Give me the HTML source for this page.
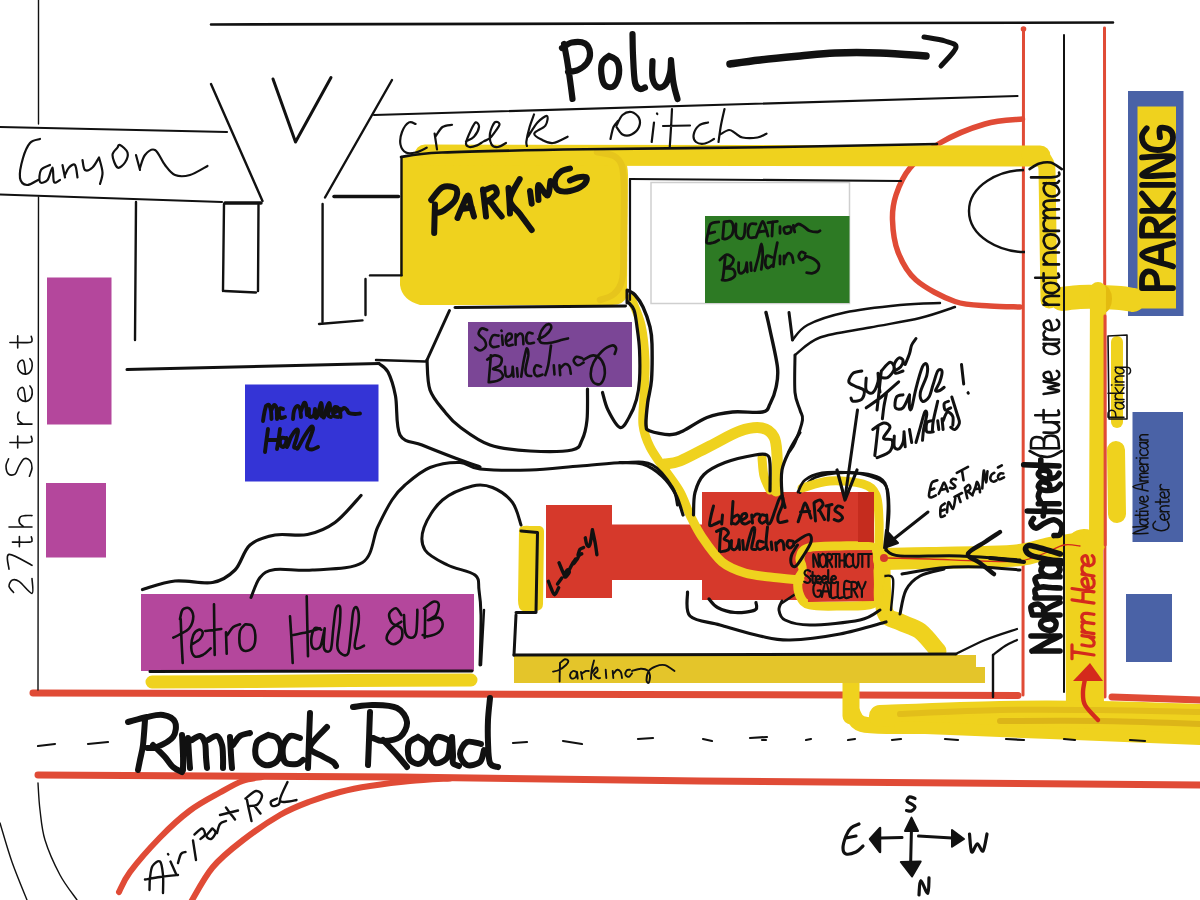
<!DOCTYPE html>
<html><head><meta charset="utf-8">
<style>
html,body{margin:0;padding:0;background:#fff;}
body{width:1200px;height:900px;overflow:hidden;}
svg{display:block;}
</style></head>
<body>
<svg width="1200" height="900" viewBox="0 0 1200 900">
<rect width="1200" height="900" fill="#fff"/>
<rect x="47" y="277.5" width="64.5" height="147" fill="#b4479c"/>
<rect x="46" y="483" width="60" height="74.5" fill="#b4479c"/>
<path d="M401 156 L615 151 Q628 156 628 175 L627 296 Q624 305 612 305 L420 305 Q402 300 400 285 Z" fill="#efd21e"/>
<rect x="651" y="182.5" width="198.5" height="121" fill="#fff" stroke="#cfcfcf" stroke-width="1.5"/>
<rect x="705" y="216" width="144.5" height="87" fill="#2d7a24"/>
<rect x="468" y="322" width="164" height="65" fill="#7b4696"/>
<rect x="245" y="384.5" width="133.5" height="97" fill="#3434d6"/>
<rect x="141" y="594" width="333" height="77" fill="#b4479c"/>
<rect x="546" y="505" width="66" height="93" fill="#d6392b"/>
<rect x="611" y="524.5" width="93" height="55.5" fill="#d6392b"/>
<rect x="702" y="492" width="172" height="108" fill="#d6392b"/>
<rect x="1128" y="91" width="55.5" height="225" fill="#4a62a6"/>
<rect x="1137.5" y="106.5" width="38.5" height="202" fill="#efd21e"/>
<rect x="1132.5" y="412" width="50.5" height="130" fill="#4a62a6"/>
<rect x="1126" y="594" width="46" height="68" fill="#4a62a6"/>
<path d="M1023.5 29.0 L1023.0 695.0" fill="none" stroke="#e04b36" stroke-width="3" stroke-linecap="round" stroke-linejoin="round" />
<circle cx="1023.5" cy="29" r="2.8" fill="#e04b36"/>
<path d="M1104.5 28.0 L1105.0 697.0" fill="none" stroke="#e04b36" stroke-width="3" stroke-linecap="round" stroke-linejoin="round" />
<path d="M1022.5 119.0 C1016.2 119.8 998.8 120.0 985.0 124.0 C971.2 128.0 952.5 135.7 940.0 143.0 C927.5 150.3 917.3 159.3 910.0 168.0 C902.7 176.7 898.9 186.3 896.0 195.0 C893.1 203.7 892.2 210.5 892.5 220.0 C892.8 229.5 894.1 242.0 898.0 252.0 C901.9 262.0 906.5 271.8 916.0 280.0 C925.5 288.2 942.7 297.2 955.0 301.5 C967.3 305.8 979.2 305.1 990.0 306.0 C1000.8 306.9 1015.0 306.8 1020.0 307.0" fill="none" stroke="#e04b36" stroke-width="5.5" stroke-linecap="round" stroke-linejoin="round" />
<path d="M33.0 693.0 L1018.0 695.5" fill="none" stroke="#e04b36" stroke-width="7" stroke-linecap="round" stroke-linejoin="round" />
<path d="M1112.0 697.0 L1200.0 700.0" fill="none" stroke="#e04b36" stroke-width="7" stroke-linecap="round" stroke-linejoin="round" />
<path d="M38.0 775.0 L400.0 777.0 L700.0 781.0 L1200.0 785.0" fill="none" stroke="#e04b36" stroke-width="7" stroke-linecap="round" stroke-linejoin="round" />
<path d="M119.0 892.0 C120.8 888.7 123.2 881.1 130.0 872.0 C136.8 862.9 150.0 847.8 160.0 837.5 C170.0 827.2 180.0 818.0 190.0 810.5 C200.0 803.0 211.2 797.4 220.0 792.5 C228.8 787.6 235.5 783.6 242.5 781.0 C249.5 778.4 258.8 777.7 262.0 777.0" fill="none" stroke="#e04b36" stroke-width="6" stroke-linecap="round" stroke-linejoin="round" />
<path d="M191.0 902.0 C194.6 896.2 203.9 877.8 212.5 867.5 C221.1 857.2 231.2 849.2 242.5 840.5 C253.8 831.8 268.8 821.5 280.0 815.0 C291.2 808.5 300.0 805.3 310.0 801.5 C320.0 797.7 330.0 794.6 340.0 792.0 C350.0 789.4 358.3 787.8 370.0 786.0 C381.7 784.2 396.7 782.2 410.0 781.0 C423.3 779.8 443.3 778.9 450.0 778.5" fill="none" stroke="#e04b36" stroke-width="6" stroke-linecap="round" stroke-linejoin="round" />
<path d="M425.0 155.0 L1040.0 156.0" fill="none" stroke="#efd21e" stroke-width="21" stroke-linecap="round" stroke-linejoin="round" />
<path d="M1030 155 Q1047 156 1047 170 L1049 300" fill="none" stroke="#efd21e" stroke-width="17" stroke-linecap="round"/>
<path d="M1062.0 299.0 C1065.0 298.7 1073.7 297.3 1080.0 297.0 C1086.3 296.7 1093.3 296.8 1100.0 297.0 C1106.7 297.2 1114.5 297.5 1120.0 298.0 C1125.5 298.5 1130.8 299.7 1133.0 300.0" fill="none" stroke="#efd21e" stroke-width="24" stroke-linecap="round" stroke-linejoin="round" />
<ellipse cx="1103" cy="299" rx="9" ry="14" fill="#e3bb10"/>
<path d="M1098.0 290.0 L1097.0 545.0" fill="none" stroke="#efd21e" stroke-width="16" stroke-linecap="round" stroke-linejoin="round" />
<path d="M1117.0 342.0 L1117.0 422.0" fill="none" stroke="#efd21e" stroke-width="12" stroke-linecap="round" stroke-linejoin="round" />
<path d="M1116.0 450.0 L1117.0 514.0" fill="none" stroke="#efd21e" stroke-width="18" stroke-linecap="round" stroke-linejoin="round" />
<path d="M1084.0 548.0 L1085.0 712.0" fill="none" stroke="#efd21e" stroke-width="38" stroke-linecap="round" stroke-linejoin="round" />
<path d="M884.0 559.0 C891.7 558.8 914.0 558.3 930.0 558.0 C946.0 557.7 965.0 557.5 980.0 557.0 C995.0 556.5 1008.3 556.5 1020.0 555.0 C1031.7 553.5 1040.8 549.8 1050.0 548.0 C1059.2 546.2 1070.8 544.7 1075.0 544.0" fill="none" stroke="#efd21e" stroke-width="22" stroke-linecap="round" stroke-linejoin="round" />
<path d="M851.0 683.0 L851.0 716.0" fill="none" stroke="#efd21e" stroke-width="17" stroke-linecap="round" stroke-linejoin="round" />
<path d="M852.0 712.0 C853.7 714.0 854.0 721.7 862.0 724.0 C870.0 726.3 877.0 725.7 900.0 726.0 C923.0 726.3 966.7 725.8 1000.0 726.0 C1033.3 726.2 1066.7 726.7 1100.0 727.0 C1133.3 727.3 1183.3 727.8 1200.0 728.0" fill="none" stroke="#efd21e" stroke-width="16" stroke-linecap="round" stroke-linejoin="round" />
<path d="M880.0 716.0 C900.0 715.3 963.3 712.7 1000.0 712.0 C1036.7 711.3 1066.7 711.5 1100.0 712.0 C1133.3 712.5 1183.3 714.5 1200.0 715.0" fill="none" stroke="#efd21e" stroke-width="22" stroke-linecap="round" stroke-linejoin="round" />
<path d="M950.0 724.0 C966.7 724.3 1021.7 725.2 1050.0 726.0 C1078.3 726.8 1095.0 727.8 1120.0 729.0 C1145.0 730.2 1186.7 732.3 1200.0 733.0" fill="none" stroke="#efd21e" stroke-width="18" stroke-linecap="round" stroke-linejoin="round" />
<path d="M900.0 727.0 C916.7 727.7 966.7 729.7 1000.0 731.0 C1033.3 732.3 1066.7 733.7 1100.0 735.0 C1133.3 736.3 1183.3 738.3 1200.0 739.0" fill="none" stroke="#efd21e" stroke-width="12" stroke-linecap="round" stroke-linejoin="round" />
<path d="M900.0 714.0 C916.7 713.3 966.7 710.7 1000.0 710.0 C1033.3 709.3 1066.7 709.7 1100.0 710.0 C1133.3 710.3 1183.3 711.7 1200.0 712.0" fill="none" stroke="#e2be1a" stroke-width="6" stroke-linecap="round" stroke-linejoin="round" />
<path d="M1000.0 721.0 C1016.7 721.0 1066.7 720.5 1100.0 721.0 C1133.3 721.5 1183.3 723.5 1200.0 724.0" fill="none" stroke="#dcb518" stroke-width="6" stroke-linecap="round" stroke-linejoin="round" />
<path d="M597.0 152.0 C599.8 152.7 609.8 153.7 614.0 156.0 C618.2 158.3 620.3 160.3 622.0 166.0 C623.7 171.7 623.8 177.7 624.0 190.0 C624.2 202.3 623.8 225.3 623.5 240.0 C623.2 254.7 624.1 269.0 622.5 278.0 C620.9 287.0 617.8 290.3 614.0 294.0 C610.2 297.7 602.3 299.0 600.0 300.0" fill="none" stroke="#e6c51c" stroke-width="6.5" stroke-linecap="round" stroke-linejoin="round" />
<path d="M631.0 298.0 C632.7 302.5 638.7 314.7 641.0 325.0 C643.3 335.3 644.5 348.3 645.0 360.0 C645.5 371.7 644.3 384.2 644.0 395.0 C643.7 405.8 642.0 416.3 643.0 425.0 C644.0 433.7 646.3 439.5 650.0 447.0 C653.7 454.5 660.0 462.5 665.0 470.0 C670.0 477.5 675.8 484.5 680.0 492.0 C684.2 499.5 686.3 507.5 690.0 515.0 C693.7 522.5 696.7 529.2 702.0 537.0 C707.3 544.8 714.8 556.0 722.0 562.0 C729.2 568.0 737.0 570.5 745.0 573.0 C753.0 575.5 760.8 575.8 770.0 577.0 C779.2 578.2 795.0 579.5 800.0 580.0" fill="none" stroke="#efd21e" stroke-width="9" stroke-linecap="round" stroke-linejoin="round" />
<path d="M665.0 464.0 C667.5 463.5 672.5 464.0 680.0 461.0 C687.5 458.0 700.0 451.0 710.0 446.0 C720.0 441.0 731.3 434.0 740.0 431.0 C748.7 428.0 756.3 427.0 762.0 428.0 C767.7 429.0 771.5 432.5 774.0 437.0 C776.5 441.5 776.5 448.3 777.0 455.0 C777.5 461.7 777.2 471.0 777.0 477.0 C776.8 483.0 776.2 488.7 776.0 491.0" fill="none" stroke="#efd21e" stroke-width="11" stroke-linecap="round" stroke-linejoin="round" />
<path d="M762.0 458.0 C762.3 461.0 762.7 470.7 764.0 476.0 C765.3 481.3 769.0 487.7 770.0 490.0" fill="none" stroke="#efd21e" stroke-width="9" stroke-linecap="round" stroke-linejoin="round" />
<path d="M882.0 570.0 C882.5 577.0 882.0 603.3 885.0 612.0 C888.0 620.7 894.2 618.8 900.0 622.0 C905.8 625.2 913.7 626.2 920.0 631.0 C926.3 635.8 935.0 647.7 938.0 651.0" fill="none" stroke="#efd21e" stroke-width="17" stroke-linecap="round" stroke-linejoin="round" />
<path d="M519 530 Q519 525 530 526 L540 526 Q545 527 544 535 L543 604 Q543 611 535 611 L523 611 Q518 610 518 600 Z" fill="#efd21e"/>
<path d="M152.0 682.0 C168.3 681.9 217.0 681.8 250.0 681.5 C283.0 681.2 313.2 680.8 350.0 680.5 C386.8 680.2 450.8 680.1 471.0 680.0" fill="none" stroke="#efd21e" stroke-width="13" stroke-linecap="round" stroke-linejoin="round" />
<rect x="514" y="655" width="462" height="13" fill="#e4c52a"/>
<rect x="514" y="667" width="471" height="16" fill="#e4c52a"/>
<path d="M211.0 24.5 L1113.0 22.5" fill="none" stroke="#111" stroke-width="2.6" stroke-linecap="round" stroke-linejoin="round" />
<path d="M38.5 0.0 L38.5 124.0" fill="none" stroke="#111" stroke-width="1.4" stroke-linecap="round" stroke-linejoin="round" />
<path d="M38.5 197.0 L38.0 690.0" fill="none" stroke="#111" stroke-width="1.4" stroke-linecap="round" stroke-linejoin="round" />
<path d="M0.0 127.0 L227.0 132.0" fill="none" stroke="#111" stroke-width="2.2" stroke-linecap="round" stroke-linejoin="round" />
<path d="M0.0 194.5 L222.0 202.0" fill="none" stroke="#111" stroke-width="2.2" stroke-linecap="round" stroke-linejoin="round" />
<path d="M211.0 84.0 L262.5 201.0" fill="none" stroke="#111" stroke-width="2.4" stroke-linecap="round" stroke-linejoin="round" />
<path d="M273.0 79.0 L295.5 142.0 L331.0 77.5" fill="none" stroke="#111" stroke-width="3.0" stroke-linecap="round" stroke-linejoin="round" />
<path d="M392.0 80.0 L325.0 197.5" fill="none" stroke="#111" stroke-width="2.4" stroke-linecap="round" stroke-linejoin="round" />
<path d="M374.0 115.0 L1017.5 96.0" fill="none" stroke="#111" stroke-width="2.2" stroke-linecap="round" stroke-linejoin="round" />
<path d="M225.0 203.0 L261.0 203.0" fill="none" stroke="#111" stroke-width="3.5" stroke-linecap="round" stroke-linejoin="round" />
<path d="M334.0 196.5 L398.5 196.5" fill="none" stroke="#111" stroke-width="3.5" stroke-linecap="round" stroke-linejoin="round" />
<path d="M136.0 202.0 L135.0 340.0" fill="none" stroke="#111" stroke-width="2.4" stroke-linecap="round" stroke-linejoin="round" />
<path d="M224.0 204.0 L223.0 291.0" fill="none" stroke="#111" stroke-width="2.4" stroke-linecap="round" stroke-linejoin="round" />
<path d="M258.5 205.0 L258.0 291.0" fill="none" stroke="#111" stroke-width="2.4" stroke-linecap="round" stroke-linejoin="round" />
<path d="M224.5 291.0 L256.0 292.5" fill="none" stroke="#111" stroke-width="2.4" stroke-linecap="round" stroke-linejoin="round" />
<path d="M322.6 204.0 L322.5 322.0" fill="none" stroke="#111" stroke-width="2.4" stroke-linecap="round" stroke-linejoin="round" />
<path d="M319.0 324.0 L362.5 320.4" fill="none" stroke="#111" stroke-width="2.4" stroke-linecap="round" stroke-linejoin="round" />
<path d="M365.5 279.0 L365.5 315.0" fill="none" stroke="#111" stroke-width="2.4" stroke-linecap="round" stroke-linejoin="round" />
<path d="M370.0 275.4 L401.5 275.4" fill="none" stroke="#111" stroke-width="2.4" stroke-linecap="round" stroke-linejoin="round" />
<path d="M401.5 157.0 L401.5 275.0" fill="none" stroke="#111" stroke-width="2.4" stroke-linecap="round" stroke-linejoin="round" />
<path d="M401.0 157.0 C407.8 156.2 411.3 153.8 442.0 152.5 C472.7 151.2 528.7 150.2 585.0 149.3 C641.3 148.4 721.3 147.9 780.0 147.0 C838.7 146.1 910.8 144.5 937.0 144.0" fill="none" stroke="#111" stroke-width="2.6" stroke-linecap="round" stroke-linejoin="round" />
<path d="M630.0 179.0 L630.0 300.0" fill="none" stroke="#111" stroke-width="2.2" stroke-linecap="round" stroke-linejoin="round" />
<path d="M630.0 179.0 L901.0 181.0" fill="none" stroke="#111" stroke-width="2.2" stroke-linecap="round" stroke-linejoin="round" />
<path d="M627.0 290.0 L627.0 303.0" fill="none" stroke="#111" stroke-width="3" stroke-linecap="round" stroke-linejoin="round" />
<path d="M455.0 307.5 L625.5 306.0" fill="none" stroke="#111" stroke-width="3.0" stroke-linecap="round" stroke-linejoin="round" />
<path d="M1024 170 C1000 170 969 185 969 211 C969 237 1000 252 1025 252" fill="none" stroke="#111" stroke-width="2.4"/>
<path d="M1064.0 35.0 L1064.0 692.0" fill="none" stroke="#111" stroke-width="2" stroke-linecap="round" stroke-linejoin="round" />
<path d="M127.0 369.6 L379.0 363.6" fill="none" stroke="#111" stroke-width="3.0" stroke-linecap="round" stroke-linejoin="round" />
<path d="M379.0 363.6 C380.5 365.0 385.2 366.6 388.0 372.0 C390.8 377.4 393.5 385.5 395.5 396.0 C397.5 406.5 395.6 426.8 400.0 435.0 C404.4 443.2 412.8 441.2 422.0 445.0 C431.2 448.8 445.3 454.3 455.0 458.0 C464.7 461.7 475.8 465.5 480.0 467.0" fill="none" stroke="#111" stroke-width="3.2" stroke-linecap="round" stroke-linejoin="round" />
<path d="M376.0 360.0 L425.5 361.5" fill="none" stroke="#111" stroke-width="2.4" stroke-linecap="round" stroke-linejoin="round" />
<path d="M449.5 310.5 L427.0 360.0" fill="none" stroke="#111" stroke-width="3.0" stroke-linecap="round" stroke-linejoin="round" />
<path d="M427.0 360.0 C427.5 365.0 427.0 381.3 430.0 390.0 C433.0 398.7 440.0 405.8 445.0 412.0 C450.0 418.2 452.5 421.5 460.0 427.0 C467.5 432.5 478.3 441.0 490.0 445.0 C501.7 449.0 516.3 450.2 530.0 451.0 C543.7 451.8 563.3 451.8 572.0 450.0 C580.7 448.2 579.5 445.0 582.0 440.0 C584.5 435.0 586.1 428.5 587.0 420.0 C587.9 411.5 587.4 394.2 587.5 389.0" fill="none" stroke="#111" stroke-width="3.2" stroke-linecap="round" stroke-linejoin="round" />
<path d="M602.5 392.5 C603.4 395.4 605.1 404.2 608.0 410.0 C610.9 415.8 616.5 426.2 620.0 427.5 C623.5 428.8 626.2 422.2 629.0 417.5 C631.8 412.8 634.8 405.8 636.5 399.5 C638.2 393.2 639.0 388.2 639.5 380.0 C640.0 371.8 639.9 358.8 639.5 350.0 C639.1 341.2 637.9 333.7 637.0 327.0 C636.1 320.3 635.5 314.2 634.0 310.0 C632.5 305.8 629.0 303.3 628.0 302.0" fill="none" stroke="#111" stroke-width="3.2" stroke-linecap="round" stroke-linejoin="round" />
<path d="M628.0 290.5 C629.2 291.2 632.5 292.2 635.0 295.0 C637.5 297.8 640.5 301.7 643.0 307.0 C645.5 312.3 648.5 320.8 650.0 327.0 C651.5 333.2 651.8 335.2 652.0 344.0 C652.2 352.8 652.2 370.2 651.5 380.0 C650.8 389.8 648.6 395.0 647.7 402.5 C646.8 410.0 645.6 420.2 646.0 425.0 C646.4 429.8 646.1 429.4 650.0 431.0 C653.9 432.6 664.0 434.7 669.5 434.7 C675.0 434.7 676.8 433.9 683.0 431.0 C689.2 428.1 698.8 420.7 707.0 417.5 C715.2 414.3 723.2 412.9 732.5 412.0 C741.8 411.1 756.2 413.3 762.5 412.0 C768.8 410.7 767.8 408.1 770.0 404.0 C772.2 399.9 774.8 393.6 776.0 387.5 C777.2 381.4 778.5 377.1 777.5 367.5 C776.5 357.9 771.9 339.2 770.0 330.0 C768.1 320.8 766.7 315.4 766.0 312.5" fill="none" stroke="#111" stroke-width="3.4" stroke-linecap="round" stroke-linejoin="round" />
<path d="M142.5 589.5 C147.9 588.1 163.3 582.2 175.0 581.0 C186.7 579.8 202.5 584.3 212.5 582.5 C222.5 580.7 228.8 576.2 235.0 570.0 C241.2 563.8 243.3 550.8 250.0 545.0 C256.7 539.2 265.4 536.8 275.0 535.0 C284.6 533.2 297.5 536.6 307.5 534.5 C317.5 532.4 326.1 529.0 335.0 522.5 C343.9 516.0 356.7 500.0 361.0 495.5" fill="none" stroke="#111" stroke-width="3.2" stroke-linecap="round" stroke-linejoin="round" />
<path d="M251.0 597.5 C252.5 594.2 256.0 582.2 260.0 577.5 C264.0 572.8 266.2 570.8 275.0 569.5 C283.8 568.2 297.9 571.2 312.5 570.0 C327.1 568.8 351.7 569.6 362.5 562.5 C373.3 555.4 372.6 537.9 377.5 527.5 C382.4 517.1 387.4 507.1 392.0 500.0 C396.6 492.9 398.7 490.4 405.0 485.0 C411.3 479.6 420.8 471.2 430.0 467.5 C439.2 463.8 451.7 462.2 460.0 462.5 C468.3 462.8 468.3 467.8 480.0 469.0 C491.7 470.2 513.3 470.5 530.0 470.0 C546.7 469.5 564.2 467.2 580.0 466.0 C595.8 464.8 612.9 462.7 625.0 462.5 C637.1 462.3 644.6 460.8 652.5 465.0 C660.4 469.2 668.3 480.8 672.5 487.5 C676.7 494.2 676.7 502.1 677.5 505.0" fill="none" stroke="#111" stroke-width="3" stroke-linecap="round" stroke-linejoin="round" />
<path d="M521.0 525.0 C519.6 521.2 517.2 508.8 512.5 502.5 C507.8 496.2 499.2 490.2 492.5 487.5 C485.8 484.8 480.8 483.9 472.5 486.0 C464.2 488.1 450.6 493.1 442.5 500.0 C434.4 506.9 426.9 519.2 424.0 527.5 C421.1 535.8 421.1 543.8 425.0 550.0 C428.9 556.2 439.2 560.8 447.5 565.0 C455.8 569.2 469.8 570.8 475.0 575.0 C480.2 579.2 478.0 583.3 479.0 590.0 C480.0 596.7 480.8 602.5 481.0 615.0 C481.2 627.5 480.2 656.7 480.0 665.0" fill="none" stroke="#111" stroke-width="3" stroke-linecap="round" stroke-linejoin="round" />
<path d="M484.0 610.0 L481.0 665.0" fill="none" stroke="#111" stroke-width="2.4" stroke-linecap="round" stroke-linejoin="round" />
<path d="M521.0 531.0 L537.5 532.5 L536.0 612.5 L516.0 612.5" fill="none" stroke="#111" stroke-width="3.0" stroke-linecap="round" stroke-linejoin="round" />
<path d="M516.0 615.0 L514.0 655.0" fill="none" stroke="#111" stroke-width="3.0" stroke-linecap="round" stroke-linejoin="round" />
<path d="M514.0 655.0 L956.0 654.0" fill="none" stroke="#111" stroke-width="3.0" stroke-linecap="round" stroke-linejoin="round" />
<path d="M956.0 654.0 C960.8 651.7 974.8 644.2 985.0 640.0 C995.2 635.8 1011.7 630.8 1017.0 629.0" fill="none" stroke="#111" stroke-width="2.2" stroke-linecap="round" stroke-linejoin="round" />
<path d="M993.0 697.0 L993.0 655.0" fill="none" stroke="#111" stroke-width="2.4" stroke-linecap="round" stroke-linejoin="round" />
<path d="M993.0 655.0 C995.0 653.5 1001.0 648.5 1005.0 646.0 C1009.0 643.5 1015.0 641.0 1017.0 640.0" fill="none" stroke="#111" stroke-width="2.2" stroke-linecap="round" stroke-linejoin="round" />
<path d="M150.0 671.5 L472.0 671.0" fill="none" stroke="#111" stroke-width="3.0" stroke-linecap="round" stroke-linejoin="round" />
<path d="M620.0 462.5 C623.8 462.8 635.5 461.8 642.5 464.0 C649.5 466.2 656.5 471.0 662.0 476.0 C667.5 481.0 672.0 487.5 675.5 494.0 C679.0 500.5 681.8 511.5 683.0 515.0" fill="none" stroke="#111" stroke-width="3.2" stroke-linecap="round" stroke-linejoin="round" />
<path d="M693.5 515.0 C693.8 511.2 693.2 499.2 695.0 492.5 C696.8 485.8 699.0 479.5 704.0 474.5 C709.0 469.5 716.5 465.8 725.0 462.5 C733.5 459.2 748.0 456.2 755.0 455.0 C762.0 453.8 764.5 453.5 767.0 455.0 C769.5 456.5 769.5 458.0 770.0 464.0 C770.5 470.0 770.0 486.5 770.0 491.0" fill="none" stroke="#111" stroke-width="3.2" stroke-linecap="round" stroke-linejoin="round" />
<path d="M800.0 432.5 C798.2 435.5 792.5 444.2 789.5 450.5 C786.5 456.8 783.2 462.8 782.0 470.0 C780.8 477.2 781.5 487.8 782.0 494.0 C782.5 500.2 784.5 505.2 785.0 507.5" fill="none" stroke="#111" stroke-width="3.2" stroke-linecap="round" stroke-linejoin="round" />
<path d="M789.0 312.5 L792.5 340.0" fill="none" stroke="#111" stroke-width="3.0" stroke-linecap="round" stroke-linejoin="round" />
<path d="M792.5 340.0 C795.0 337.5 798.8 329.6 807.5 325.0 C816.2 320.4 829.6 315.8 845.0 312.5 C860.4 309.2 884.2 306.6 900.0 305.0 C915.8 303.4 933.3 303.3 940.0 303.0" fill="none" stroke="#111" stroke-width="2.4" stroke-linecap="round" stroke-linejoin="round" />
<path d="M795.0 355.0 C799.2 352.1 807.5 342.1 820.0 337.5 C832.5 332.9 853.3 330.8 870.0 327.5 C886.7 324.2 905.8 321.4 920.0 318.0 C934.2 314.6 949.2 308.8 955.0 307.0" fill="none" stroke="#111" stroke-width="2.4" stroke-linecap="round" stroke-linejoin="round" />
<path d="M795.0 355.0 C795.0 361.2 794.2 383.3 795.0 392.5 C795.8 401.7 798.8 405.4 800.0 410.0 C801.2 414.6 803.3 414.6 802.5 420.0 C801.7 425.4 797.2 437.2 795.0 442.5 C792.8 447.8 790.0 450.4 789.0 452.0" fill="none" stroke="#111" stroke-width="3.0" stroke-linecap="round" stroke-linejoin="round" />
<path d="M800.0 492.5 C802.5 490.0 807.5 480.8 815.0 477.5 C822.5 474.2 835.8 472.8 845.0 472.5 C854.2 472.2 863.2 473.8 870.0 476.0 C876.8 478.2 882.8 480.3 886.0 486.0 C889.2 491.7 888.8 501.7 889.0 510.0 C889.2 518.3 887.5 529.3 887.0 536.0 C886.5 542.7 886.2 547.7 886.0 550.0" fill="none" stroke="#111" stroke-width="3.0" stroke-linecap="round" stroke-linejoin="round" />
<path d="M886.0 550.0 C888.3 551.0 887.7 555.0 900.0 556.0 C912.3 557.0 940.0 555.3 960.0 556.0 C980.0 556.7 1010.0 559.3 1020.0 560.0" fill="none" stroke="#111" stroke-width="3.0" stroke-linecap="round" stroke-linejoin="round" />
<path d="M902.0 574.0 C908.3 573.0 927.0 569.2 940.0 568.0 C953.0 566.8 966.7 566.7 980.0 567.0 C993.3 567.3 1013.3 569.5 1020.0 570.0" fill="none" stroke="#111" stroke-width="3.0" stroke-linecap="round" stroke-linejoin="round" />
<path d="M900.0 614.0 C901.0 610.0 902.7 596.3 906.0 590.0 C909.3 583.7 913.7 579.5 920.0 576.0 C926.3 572.5 940.0 570.2 944.0 569.0" fill="none" stroke="#111" stroke-width="3.0" stroke-linecap="round" stroke-linejoin="round" />
<path d="M884.0 576.0 C885.5 576.5 891.8 573.3 893.0 579.0 C894.2 584.7 891.3 604.8 891.0 610.0" fill="none" stroke="#111" stroke-width="2.4" stroke-linecap="round" stroke-linejoin="round" />
<path d="M687.5 592.0 C687.9 596.0 684.6 610.5 690.0 616.0 C695.4 621.5 708.3 621.7 720.0 625.0 C731.7 628.3 748.3 633.5 760.0 636.0 C771.7 638.5 776.7 640.3 790.0 640.0 C803.3 639.7 824.0 637.0 840.0 634.0 C856.0 631.0 878.3 624.0 886.0 622.0" fill="none" stroke="#111" stroke-width="3.2" stroke-linecap="round" stroke-linejoin="round" />
<path d="M782.0 603.0 L797.0 593.0" fill="none" stroke="#111" stroke-width="2.6" stroke-linecap="round" stroke-linejoin="round" />
<path d="M709.0 599.0 C710.4 600.4 713.2 605.2 717.5 607.5 C721.8 609.8 728.8 612.1 735.0 612.5 C741.2 612.9 751.5 611.7 755.0 610.0 C758.5 608.3 755.8 603.8 756.0 602.5" fill="none" stroke="#111" stroke-width="3.2" stroke-linecap="round" stroke-linejoin="round" />
<path d="M782.0 601.0 C781.5 602.5 778.5 606.8 779.0 610.0 C779.5 613.2 779.8 617.5 785.0 620.0 C790.2 622.5 797.5 625.0 810.0 625.0 C822.5 625.0 848.3 622.5 860.0 620.0 C871.7 617.5 876.7 611.7 880.0 610.0" fill="none" stroke="#111" stroke-width="3.0" stroke-linecap="round" stroke-linejoin="round" />
<path d="M0.0 823.0 C2.0 829.5 7.5 849.2 12.0 862.0 C16.5 874.8 24.5 893.7 27.0 900.0" fill="none" stroke="#111" stroke-width="1.4" stroke-linecap="round" stroke-linejoin="round" />
<path d="M38.0 783.0 C38.3 787.5 38.8 800.5 40.0 810.0 C41.2 819.5 41.7 829.2 45.0 840.0 C48.3 850.8 54.7 865.0 60.0 875.0 C65.3 885.0 74.2 895.8 77.0 900.0" fill="none" stroke="#111" stroke-width="1.4" stroke-linecap="round" stroke-linejoin="round" />
<path d="M1108.0 336.0 L1127.0 335.0 L1127.0 419.0 L1109.0 419.0 L1108.0 336.0" fill="none" stroke="#111" stroke-width="1.6" stroke-linecap="round" stroke-linejoin="round" />
<path d="M1105.0 316.0 L1105.2 545.0" fill="none" stroke="#e04b36" stroke-width="3" stroke-linecap="round" stroke-linejoin="round" />
<path d="M38.0 746.0 L55.0 744.0" fill="none" stroke="#111" stroke-width="2.2" stroke-linecap="round" stroke-linejoin="round" />
<path d="M88.0 744.0 L108.0 742.0" fill="none" stroke="#111" stroke-width="2.2" stroke-linecap="round" stroke-linejoin="round" />
<path d="M513.0 743.0 L527.0 742.0" fill="none" stroke="#111" stroke-width="2.2" stroke-linecap="round" stroke-linejoin="round" />
<path d="M563.0 741.0 L582.0 744.0" fill="none" stroke="#111" stroke-width="2.2" stroke-linecap="round" stroke-linejoin="round" />
<path d="M638.0 739.0 L653.0 738.0" fill="none" stroke="#111" stroke-width="2.2" stroke-linecap="round" stroke-linejoin="round" />
<path d="M703.0 739.0 L712.0 741.0" fill="none" stroke="#111" stroke-width="2.2" stroke-linecap="round" stroke-linejoin="round" />
<path d="M750.0 738.0 L767.0 737.0" fill="none" stroke="#111" stroke-width="2.2" stroke-linecap="round" stroke-linejoin="round" />
<path d="M762.0 740.0 L766.0 740.0" fill="none" stroke="#111" stroke-width="2.2" stroke-linecap="round" stroke-linejoin="round" />
<path d="M806.0 740.0 L811.0 739.0" fill="none" stroke="#111" stroke-width="2.2" stroke-linecap="round" stroke-linejoin="round" />
<path d="M848.0 740.0 L855.0 739.0" fill="none" stroke="#111" stroke-width="2.2" stroke-linecap="round" stroke-linejoin="round" />
<path d="M892.0 740.0 L901.0 739.0" fill="none" stroke="#111" stroke-width="2.2" stroke-linecap="round" stroke-linejoin="round" />
<path d="M945.0 739.0 L958.0 740.0" fill="none" stroke="#111" stroke-width="2.2" stroke-linecap="round" stroke-linejoin="round" />
<path d="M1006.0 739.0 L1024.0 740.0" fill="none" stroke="#111" stroke-width="2.2" stroke-linecap="round" stroke-linejoin="round" />
<path d="M1064.0 739.0 L1075.0 740.0" fill="none" stroke="#111" stroke-width="2.2" stroke-linecap="round" stroke-linejoin="round" />
<path d="M1130.0 740.0 L1145.0 741.0" fill="none" stroke="#111" stroke-width="2.2" stroke-linecap="round" stroke-linejoin="round" />
<path d="M854.5 566.0 L858.6 578.7 L847.8 570.8 L861.2 570.8 L850.4 578.7 L854.5 566.0" fill="none" stroke="#fff" stroke-width="1.8" stroke-linecap="round" stroke-linejoin="round" />
<path d="M888.0 558.0 C895.0 558.2 914.7 558.5 930.0 559.0 C945.3 559.5 965.0 560.7 980.0 561.0 C995.0 561.3 1009.2 562.3 1020.0 561.0 C1030.8 559.7 1037.7 555.7 1045.0 553.0 C1052.3 550.3 1058.2 546.2 1064.0 545.0 C1069.8 543.8 1077.3 545.8 1080.0 546.0" fill="none" stroke="#d42a1c" stroke-width="1.3" stroke-linecap="round" stroke-linejoin="round" />
<path d="M1098.0 720.0 C1095.8 717.5 1087.5 709.7 1085.0 705.0 C1082.5 700.3 1083.0 696.3 1083.0 692.0 C1083.0 687.7 1084.7 681.2 1085.0 679.0" fill="none" stroke="#d42a1c" stroke-width="4.4" stroke-linecap="round" stroke-linejoin="round" />
<path d="M1073 681 L1090 663 L1103 681 Z" fill="#d42a1c"/>
<path d="M802.0 488.0 C806.7 486.8 819.8 481.7 830.0 481.0 C840.2 480.3 855.3 481.7 863.0 484.0 C870.7 486.3 873.3 489.0 876.0 495.0 C878.7 501.0 878.5 511.7 879.0 520.0 C879.5 528.3 878.8 536.7 879.0 545.0 C879.2 553.3 880.0 561.7 880.0 570.0 C880.0 578.3 879.2 590.8 879.0 595.0" fill="none" stroke="#efd21e" stroke-width="9" stroke-linecap="round" stroke-linejoin="round" />
<path d="M808.0 548.0 C814.7 546.0 829.3 546.2 840.0 546.0 C850.7 545.8 865.7 544.7 872.0 547.0 C878.3 549.3 877.0 552.8 878.0 560.0 C879.0 567.2 879.0 582.7 878.0 590.0 C877.0 597.3 878.3 601.3 872.0 604.0 C865.7 606.7 850.3 605.8 840.0 606.0 C829.7 606.2 816.7 606.7 810.0 605.0 C803.3 603.3 802.0 600.2 800.0 596.0 C798.0 591.8 797.5 584.3 798.0 580.0 C798.5 575.7 802.7 573.7 803.0 570.0 C803.3 566.3 799.2 561.7 800.0 558.0 C800.8 554.3 801.3 550.0 808.0 548.0 Z" fill="none" stroke="#efd21e" stroke-width="9" stroke-linejoin="round"/>
<path d="M806 552 L872 550 L874 601 L808 602 Z" fill="#d6392b"/>
<rect x="858" y="492" width="16" height="50" fill="#c52c1e"/>
<path d="M798.0 492.0 C799.2 490.0 801.0 483.2 805.0 480.0 C809.0 476.8 815.0 474.2 822.0 473.0 C829.0 471.8 838.7 472.2 847.0 472.5 C855.3 472.8 865.7 473.2 872.0 475.0 C878.3 476.8 882.3 478.3 885.0 483.0 C887.7 487.7 887.7 495.5 888.0 503.0 C888.3 510.5 887.2 521.0 887.0 528.0 C886.8 535.0 887.0 542.2 887.0 545.0" fill="none" stroke="#111" stroke-width="2.8" stroke-linecap="round" stroke-linejoin="round" />
<path d="M837.0 470.0 L845.0 500.0 L857.0 470.0" fill="none" stroke="#111" stroke-width="3.2" stroke-linecap="round" stroke-linejoin="round" />
<path d="M857.5 410.0 L845.0 498.0" fill="none" stroke="#111" stroke-width="3" stroke-linecap="round" stroke-linejoin="round" />
<path d="M928.0 512.0 L890.0 542.0" fill="none" stroke="#111" stroke-width="3" stroke-linecap="round" stroke-linejoin="round" />
<path d="M884 548 L886 530 L898 543 Z" fill="#111" stroke="#111" stroke-width="2" stroke-linejoin="round"/>
<circle cx="884" cy="558" r="4" fill="#d6392b"/>
<path d="M1000.0 532.0 C997.5 533.7 990.3 538.3 985.0 542.0 C979.7 545.7 968.8 550.5 968.0 554.0 C967.2 557.5 975.7 559.7 980.0 563.0 C984.3 566.3 991.7 572.2 994.0 574.0" fill="none" stroke="#111" stroke-width="4.5" stroke-linecap="round" stroke-linejoin="round" />
<path d="M990.0 558.0 L1024.0 562.0" fill="none" stroke="#111" stroke-width="4" stroke-linecap="round" stroke-linejoin="round" />
<path d="M730.0 64.0 C735.0 63.3 748.3 61.3 760.0 60.0 C771.7 58.7 787.5 57.2 800.0 56.0 C812.5 54.8 821.7 53.5 835.0 53.0 C848.3 52.5 864.8 52.5 880.0 53.0 C895.2 53.5 918.3 55.5 926.0 56.0" fill="none" stroke="#111" stroke-width="7.5" stroke-linecap="round" stroke-linejoin="round" />
<path d="M924.0 37.0 C927.5 37.7 939.7 39.2 945.0 41.0 C950.3 42.8 956.7 43.3 956.0 47.5 C955.3 51.7 943.5 62.9 941.0 66.0" fill="none" stroke="#111" stroke-width="5" stroke-linecap="round" stroke-linejoin="round" />
<path d="M911.5 827.0 L910.7 861.0" fill="none" stroke="#111" stroke-width="3" stroke-linecap="round" stroke-linejoin="round" />
<path d="M905 831 L911.5 817.6 L918 831 Z" fill="#111" stroke="#111" stroke-width="2" stroke-linejoin="round"/>
<path d="M900.8 862 L920.7 861.5 L912 876.4 Z" fill="#111" stroke="#111" stroke-width="2" stroke-linejoin="round"/>
<path d="M881.0 838.0 L902.0 837.5" fill="none" stroke="#111" stroke-width="3" stroke-linecap="round" stroke-linejoin="round" />
<path d="M870 839 L880 828 L880 852 Z" fill="#111" stroke="#111" stroke-width="2.5" stroke-linejoin="round"/>
<path d="M918.5 836.0 L952.0 838.0" fill="none" stroke="#111" stroke-width="3" stroke-linecap="round" stroke-linejoin="round" />
<path d="M952 830 L964 839 L952 846.7 Z" fill="#111" stroke="#111" stroke-width="2" stroke-linejoin="round"/>
<path d="M564.0 44.0 C564.5 46.7 566.0 54.0 567.0 60.0 C568.0 66.0 569.1 73.5 570.0 80.0 C570.9 86.5 572.1 95.8 572.5 99.0 M562.0 48.0 C563.7 47.1 568.2 43.2 572.0 42.5 C575.8 41.8 582.0 41.8 585.0 43.5 C588.0 45.2 589.7 49.8 590.0 53.0 C590.3 56.2 589.0 60.2 587.0 63.0 C585.0 65.8 581.2 68.5 578.0 70.0 C574.8 71.5 569.7 71.7 568.0 72.0 M609.0 56.0 C607.8 57.2 603.2 59.3 602.0 63.0 C600.8 66.7 601.3 74.2 602.0 78.0 C602.7 81.8 604.0 84.7 606.0 86.0 C608.0 87.3 611.8 88.0 614.0 86.0 C616.2 84.0 618.5 78.2 619.0 74.0 C619.5 69.8 618.7 64.0 617.0 61.0 C615.3 58.0 610.3 56.8 609.0 56.0 M632.5 34.0 C632.6 37.5 632.6 46.9 633.0 55.0 C633.4 63.1 633.8 76.8 635.0 82.5 C636.2 88.2 638.3 88.2 640.0 89.0 C641.7 89.8 644.2 87.8 645.0 87.5 M652.5 61.0 C652.5 63.8 651.7 73.7 652.5 78.0 C653.3 82.3 655.4 85.8 657.5 87.0 C659.6 88.2 662.9 87.3 665.0 85.0 C667.1 82.7 669.0 77.0 670.0 73.0 C671.0 69.0 670.8 63.0 671.0 61.0 M671.0 60.0 C671.3 63.3 672.3 75.0 673.0 80.0 C673.7 85.0 674.2 86.8 675.0 90.0 C675.8 93.2 677.1 97.5 677.5 99.0" fill="none" stroke="#111" stroke-width="6.2" stroke-linecap="round" stroke-linejoin="round"/>
<path d="M145.0 720.0 C144.7 724.2 143.8 738.3 143.0 745.0 C142.2 751.7 140.8 755.8 140.0 760.0 C139.2 764.2 138.3 768.3 138.0 770.0 M128.0 722.0 C131.2 721.2 141.2 718.2 147.0 717.0 C152.8 715.8 158.3 714.2 163.0 715.0 C167.7 715.8 173.3 718.3 175.0 722.0 C176.7 725.7 176.0 732.8 173.0 737.0 C170.0 741.2 161.3 745.2 157.0 747.0 C152.7 748.8 148.7 747.8 147.0 748.0 M153.0 745.0 C155.0 747.0 161.7 753.3 165.0 757.0 C168.3 760.7 170.2 764.5 173.0 767.0 C175.8 769.5 180.5 771.2 182.0 772.0 M182.0 735.0 C182.2 738.3 182.8 749.2 183.0 755.0 C183.2 760.8 183.0 767.5 183.0 770.0 M188.0 738.0 C188.2 740.8 188.7 750.0 189.0 755.0 C189.3 760.0 189.8 765.8 190.0 768.0 M192.0 740.0 C193.3 739.3 197.8 735.5 200.0 736.0 C202.2 736.5 204.0 739.5 205.0 743.0 C206.0 746.5 205.7 752.8 206.0 757.0 C206.3 761.2 206.8 766.2 207.0 768.0 M208.0 740.0 C209.5 739.3 214.7 735.2 217.0 736.0 C219.3 736.8 221.0 741.5 222.0 745.0 C223.0 748.5 222.8 753.2 223.0 757.0 C223.2 760.8 223.0 766.2 223.0 768.0 M230.0 737.0 C230.2 740.0 230.7 749.8 231.0 755.0 C231.3 760.2 231.8 765.8 232.0 768.0 M233.0 745.0 C234.2 743.5 237.2 738.0 240.0 736.0 C242.8 734.0 248.3 733.5 250.0 733.0 M268.0 735.0 C266.2 736.2 259.0 738.3 257.0 742.0 C255.0 745.7 254.7 753.2 256.0 757.0 C257.3 760.8 261.7 764.2 265.0 765.0 C268.3 765.8 273.3 764.5 276.0 762.0 C278.7 759.5 280.8 754.0 281.0 750.0 C281.2 746.0 279.2 740.5 277.0 738.0 C274.8 735.5 269.5 735.5 268.0 735.0 M300.0 738.0 C298.3 737.7 292.8 734.5 290.0 736.0 C287.2 737.5 283.8 742.7 283.0 747.0 C282.2 751.3 282.7 759.2 285.0 762.0 C287.3 764.8 294.0 764.3 297.0 764.0 C300.0 763.7 302.0 760.7 303.0 760.0 M310.0 713.0 C309.8 717.5 309.3 730.8 309.0 740.0 C308.7 749.2 308.2 763.3 308.0 768.0 M327.0 727.0 C324.2 730.3 310.8 742.2 310.0 747.0 C309.2 751.8 318.2 753.5 322.0 756.0 C325.8 758.5 330.7 760.3 333.0 762.0 C335.3 763.7 335.5 765.3 336.0 766.0 M370.0 712.0 C369.8 716.7 369.3 731.2 369.0 740.0 C368.7 748.8 368.2 760.8 368.0 765.0 M353.0 707.0 C356.3 706.7 365.7 704.8 373.0 705.0 C380.3 705.2 391.3 705.2 397.0 708.0 C402.7 710.8 406.5 717.2 407.0 722.0 C407.5 726.8 404.0 733.8 400.0 737.0 C396.0 740.2 387.5 740.8 383.0 741.0 C378.5 741.2 374.7 738.5 373.0 738.0 M383.0 740.0 C385.3 742.5 393.0 750.5 397.0 755.0 C401.0 759.5 405.3 765.0 407.0 767.0 M418.0 737.0 C416.5 738.0 410.5 739.5 409.0 743.0 C407.5 746.5 407.5 754.5 409.0 758.0 C410.5 761.5 415.2 764.0 418.0 764.0 C420.8 764.0 424.5 761.3 426.0 758.0 C427.5 754.7 428.3 747.5 427.0 744.0 C425.7 740.5 419.5 738.2 418.0 737.0 M450.0 741.0 C447.8 740.3 440.3 735.5 437.0 737.0 C433.7 738.5 430.3 745.7 430.0 750.0 C429.7 754.3 432.2 761.7 435.0 763.0 C437.8 764.3 444.5 761.3 447.0 758.0 C449.5 754.7 449.5 745.5 450.0 743.0 M452.0 737.0 C452.2 740.0 452.8 750.7 453.0 755.0 C453.2 759.3 452.0 761.2 453.0 763.0 C454.0 764.8 458.0 765.5 459.0 766.0 M481.0 744.0 C478.7 743.7 470.5 740.3 467.0 742.0 C463.5 743.7 460.0 750.2 460.0 754.0 C460.0 757.8 463.7 763.7 467.0 765.0 C470.3 766.3 477.2 764.5 480.0 762.0 C482.8 759.5 483.3 752.0 484.0 750.0 M490.0 698.0 C489.7 701.7 488.3 712.7 488.0 720.0 C487.7 727.3 487.7 734.8 488.0 742.0 C488.3 749.2 488.3 758.8 490.0 763.0 C491.7 767.2 496.7 766.3 498.0 767.0" fill="none" stroke="#111" stroke-width="6" stroke-linecap="round" stroke-linejoin="round"/>
<path d="M435.0 204.5 C434.9 207.1 434.6 215.2 434.5 220.0 C434.4 224.8 434.2 230.8 434.2 233.0 M431.2 200.0 C433.1 197.9 438.4 189.1 442.5 187.2 C446.6 185.3 453.9 186.6 456.0 188.7 C458.1 190.8 457.2 196.4 455.2 200.0 C453.2 203.6 446.9 208.4 444.0 210.5 C441.1 212.6 439.0 212.3 438.0 212.7 M457.5 218.0 C458.4 215.8 461.2 208.8 463.0 205.0 C464.8 201.2 466.7 195.3 468.0 195.5 C469.3 195.7 470.0 202.5 471.0 206.0 C472.0 209.5 473.5 214.8 474.0 216.5 M462.0 209.0 L471.7 207.5 M483.0 189.5 C483.2 191.8 484.0 198.5 484.5 203.0 C485.0 207.5 485.8 214.2 486.0 216.5 M483.0 191.0 C484.8 190.4 491.2 186.7 493.5 187.2 C495.8 187.7 497.5 191.6 496.5 194.0 C495.5 196.4 489.0 200.2 487.5 201.5 M489.0 200.0 C490.0 201.3 492.9 205.2 495.0 208.0 C497.1 210.8 500.6 215.1 501.7 216.5 M508.5 188.0 C508.6 190.0 509.1 195.8 509.3 200.0 C509.6 204.2 509.9 211.2 510.0 213.5 M519.7 179.0 C518.1 182.5 509.9 194.2 510.0 200.0 C510.1 205.8 516.4 209.0 520.0 214.0 C523.6 219.0 529.8 227.3 531.7 230.0 M530.0 191.0 L531.7 203.7 M538.5 200.0 C538.5 197.5 537.0 185.8 538.5 185.0 C540.0 184.2 545.5 196.2 547.5 195.5 C549.5 194.8 550.0 183.4 550.5 181.0 M570.0 168.5 C568.5 169.0 563.5 169.5 561.0 171.5 C558.5 173.5 555.5 177.4 555.0 180.5 C554.5 183.6 555.5 188.2 558.0 190.0 C560.5 191.8 565.8 191.8 570.0 191.0 C574.2 190.2 580.8 187.2 583.5 185.0 C586.2 182.8 587.5 178.8 586.5 177.5 C585.5 176.2 580.2 177.0 577.5 177.5 C574.8 178.0 571.2 180.0 570.0 180.5" fill="none" stroke="#111" stroke-width="6" stroke-linecap="round" stroke-linejoin="round"/>
<path d="M415.6 124.0 C414.5 123.7 411.3 121.1 409.0 122.4 C406.7 123.7 403.4 128.3 402.0 132.0 C400.6 135.7 399.8 141.2 400.5 144.6 C401.2 148.0 403.5 151.2 406.0 152.5 C408.5 153.8 412.2 153.3 415.6 152.5 C419.1 151.7 424.9 148.5 426.7 147.7 M434.6 133.5 L437.0 149.3 M435.4 136.7 C436.6 135.1 439.7 129.0 442.5 127.0 C445.3 125.0 450.4 125.2 452.0 124.8 M466.0 141.4 C467.3 140.6 471.8 139.1 474.0 136.7 C476.2 134.3 478.7 129.4 479.0 127.0 C479.3 124.6 477.0 121.9 475.7 122.4 C474.4 122.9 472.6 126.6 471.0 130.0 C469.4 133.4 466.3 140.2 466.0 143.0 C465.7 145.8 467.6 146.6 469.4 147.0 C471.2 147.4 474.6 146.3 477.0 145.4 C479.4 144.5 481.5 142.6 483.7 141.4 C485.9 140.2 487.9 139.9 490.0 138.0 C492.1 136.1 494.7 132.3 496.3 130.0 C497.9 127.7 499.8 125.3 499.5 124.0 C499.2 122.7 496.3 120.8 494.7 122.4 C493.1 124.0 490.5 129.8 490.0 133.5 C489.5 137.2 490.3 142.3 491.6 144.6 C492.9 146.8 495.6 147.3 498.0 147.0 C500.4 146.7 504.7 143.7 506.0 143.0 M534.0 114.5 C533.3 116.6 530.9 122.5 529.6 127.0 C528.3 131.5 526.8 138.2 526.4 141.4 C526.0 144.6 526.9 145.2 527.0 146.0 M528.0 136.7 C529.6 134.3 534.3 125.9 537.5 122.4 C540.7 119.0 545.7 115.5 547.0 116.0 C548.3 116.5 547.5 122.7 545.4 125.6 C543.3 128.5 534.9 131.1 534.3 133.5 C533.7 135.9 538.9 138.2 542.0 139.8 C545.1 141.4 548.7 143.5 553.0 143.0 C557.3 142.5 565.2 137.8 567.6 136.7 M610.5 139.0 C611.0 137.0 612.2 130.0 613.5 127.0 C614.8 124.0 617.2 122.0 618.0 121.0 M616.5 125.5 C617.5 123.8 620.0 117.2 622.5 115.0 C625.0 112.8 628.8 111.5 631.5 112.0 C634.2 112.5 637.8 115.5 639.0 118.0 C640.2 120.5 640.2 124.2 639.0 127.0 C637.8 129.8 634.2 133.2 631.5 134.5 C628.8 135.8 625.0 135.8 622.5 134.5 C620.0 133.2 617.5 128.2 616.5 127.0 M654.0 122.5 L651.7 142.0 M657.0 113.5 L657.3 114.0 M672.0 109.0 C671.8 112.2 671.4 121.5 671.0 128.0 C670.6 134.5 669.9 144.7 669.7 148.0 M663.0 126.0 L690.0 125.5 M708.0 122.5 C706.5 123.0 701.4 123.5 699.0 125.5 C696.6 127.5 694.2 131.8 693.7 134.5 C693.2 137.2 694.1 140.5 696.0 142.0 C697.9 143.5 702.0 144.0 705.0 143.5 C708.0 143.0 712.5 139.8 714.0 139.0 M724.5 109.0 C723.9 111.7 722.0 119.5 721.0 125.0 C720.0 130.5 718.9 139.2 718.5 142.0 M720.0 134.5 C721.5 133.8 726.5 130.2 729.0 130.0 C731.5 129.8 732.8 131.8 735.0 133.0 C737.2 134.2 738.8 136.8 742.5 137.5 C746.2 138.2 753.5 138.1 757.5 137.5 C761.5 136.9 765.0 134.3 766.5 133.7" fill="none" stroke="#111" stroke-width="2.2" stroke-linecap="round" stroke-linejoin="round"/>
<path d="M180.7 619.0 C180.8 622.5 181.2 632.7 181.5 640.0 C181.8 647.3 182.5 659.2 182.7 663.0 M173.3 637.7 C174.2 637.2 176.0 636.6 178.7 635.0 C181.4 633.4 186.9 631.4 189.3 628.3 C191.7 625.2 193.3 619.6 193.3 616.3 C193.3 613.0 191.1 609.4 189.3 608.3 C187.5 607.2 184.2 607.9 182.7 609.7 C181.1 611.5 180.4 617.5 180.0 619.0 M192.0 644.3 C193.3 643.4 198.2 641.0 200.0 639.0 C201.8 637.0 202.9 633.8 202.7 632.3 C202.5 630.8 200.3 629.2 198.7 629.7 C197.1 630.2 194.5 631.9 193.3 635.0 C192.1 638.1 191.1 644.8 191.3 648.3 C191.5 651.8 192.8 655.2 194.7 656.3 C196.6 657.4 200.0 656.3 202.7 655.0 C205.4 653.7 209.4 649.4 210.7 648.3 M214.0 604.3 C214.1 608.6 214.2 621.5 214.3 630.0 C214.4 638.5 214.6 650.8 214.7 655.0 M205.3 631.0 L221.3 629.0 M226.0 632.3 L226.7 653.7 M227.3 635.0 C228.3 633.7 231.2 628.8 233.3 627.0 C235.4 625.2 238.9 624.8 240.0 624.3 M245.3 624.3 C244.4 625.4 240.9 627.4 240.0 631.0 C239.1 634.6 239.1 642.4 240.0 645.7 C240.9 649.0 243.1 650.8 245.3 651.0 C247.5 651.2 251.6 649.7 253.3 647.0 C255.0 644.3 255.5 638.5 255.3 635.0 C255.1 631.5 253.7 627.5 252.0 625.7 C250.3 623.9 246.4 624.5 245.3 624.3 M290.0 616.3 C290.2 620.2 291.1 632.2 291.5 640.0 C291.9 647.8 292.5 659.2 292.7 663.0 M293.3 635.0 C295.5 634.5 302.2 633.4 306.7 632.3 C311.1 631.2 317.8 629.0 320.0 628.3 M306.7 596.3 C306.8 601.1 307.1 615.0 307.3 625.0 C307.5 635.0 307.9 651.1 308.0 656.3 M321.3 629.7 C320.2 629.5 316.4 626.8 314.7 628.3 C313.0 629.8 311.5 635.7 311.3 639.0 C311.1 642.3 311.9 647.0 313.3 648.3 C314.8 649.6 318.3 649.2 320.0 647.0 C321.7 644.8 322.5 638.1 323.3 635.0 C324.1 631.9 324.5 629.4 324.7 628.3 M324.7 628.3 C324.6 631.6 323.0 644.7 324.0 648.3 C325.0 651.9 329.1 653.0 330.7 649.7 C332.2 646.4 332.4 635.2 333.3 628.3 C334.2 621.4 334.9 611.8 336.0 608.3 C337.1 604.8 339.3 604.8 340.0 607.0 C340.7 609.2 340.4 615.2 340.0 621.7 C339.6 628.2 337.1 640.4 337.3 645.7 C337.5 651.0 339.5 652.4 341.3 653.7 C343.1 655.0 346.4 656.8 348.0 653.7 C349.6 650.6 349.8 642.1 350.7 635.0 C351.6 627.9 352.2 615.5 353.3 611.0 C354.4 606.5 356.4 606.5 357.3 608.3 C358.2 610.1 359.1 615.5 358.7 621.7 C358.3 627.9 354.7 641.3 354.7 645.7 C354.7 650.1 357.1 648.3 358.7 648.3 C360.2 648.3 363.1 646.1 364.0 645.7 M401.3 615.0 C400.4 613.9 398.0 608.5 396.0 608.3 C394.0 608.1 390.0 611.2 389.3 613.7 C388.6 616.2 390.0 620.6 392.0 623.0 C394.0 625.4 399.8 625.6 401.3 628.3 C402.9 631.0 402.6 636.3 401.3 639.0 C400.0 641.7 395.7 644.3 393.3 644.3 C390.9 644.3 387.1 641.4 386.7 639.0 C386.3 636.6 388.3 632.6 390.7 629.7 C393.1 626.8 399.5 623.0 401.3 621.7 M404.0 615.0 C404.2 617.9 404.2 628.5 405.3 632.3 C406.4 636.1 408.9 637.5 410.7 637.7 C412.5 637.9 414.9 637.5 416.0 633.7 C417.1 629.9 417.1 619.0 417.3 615.0 C417.5 611.0 417.3 610.6 417.3 609.7 M425.3 609.7 C425.2 612.2 425.1 620.3 425.0 625.0 C424.9 629.7 424.8 635.6 424.7 637.7 M424.0 608.3 C425.6 607.2 430.9 602.4 433.3 601.7 C435.8 601.0 438.2 602.1 438.7 604.3 C439.1 606.5 437.8 612.3 436.0 615.0 C434.2 617.7 427.6 619.8 428.0 620.3 C428.4 620.8 436.2 617.0 438.7 617.7 C441.1 618.4 442.7 621.9 442.7 624.3 C442.7 626.7 441.1 630.3 438.7 632.3 C436.2 634.3 430.7 635.8 428.0 636.3 C425.3 636.8 423.6 635.2 422.7 635.0" fill="none" stroke="#111" stroke-width="2.6" stroke-linecap="round" stroke-linejoin="round"/>
<path d="M1060.0 651.0 C1057.7 651.0 1050.7 651.0 1046.0 651.0 C1041.3 651.0 1034.3 651.0 1032.0 651.0 M1032.0 651.0 C1034.3 649.7 1041.3 645.5 1046.0 643.0 C1050.7 640.5 1057.7 637.2 1060.0 636.0 M1060.0 636.0 C1057.7 636.0 1050.8 636.0 1046.0 636.0 C1041.2 636.0 1033.5 636.0 1031.0 636.0 M1048.0 619.0 C1047.0 619.3 1043.2 619.8 1042.0 621.0 C1040.8 622.2 1040.2 624.5 1041.0 626.0 C1041.8 627.5 1044.8 629.5 1047.0 630.0 C1049.2 630.5 1052.5 630.2 1054.0 629.0 C1055.5 627.8 1056.3 624.7 1056.0 623.0 C1055.7 621.3 1053.3 619.7 1052.0 619.0 C1050.7 618.3 1048.7 619.0 1048.0 619.0 M1060.0 615.0 C1057.7 615.0 1050.6 615.0 1046.0 615.0 C1041.4 615.0 1034.8 615.0 1032.5 615.0 M1032.5 615.0 C1032.2 613.6 1030.1 608.5 1031.0 606.7 C1031.9 604.9 1035.9 603.8 1038.0 604.0 C1040.1 604.2 1042.4 606.4 1043.6 608.0 C1044.8 609.6 1044.8 612.7 1045.0 613.6 M1043.6 611.0 C1045.0 610.2 1049.3 607.4 1052.0 606.0 C1054.7 604.6 1058.7 603.1 1060.0 602.5 M1060.0 598.0 C1058.0 598.0 1052.2 598.0 1048.0 598.0 C1043.8 598.0 1037.2 598.0 1035.0 598.0 M1036.7 598.0 C1036.4 596.7 1034.1 591.8 1035.0 590.0 C1035.9 588.2 1039.5 587.4 1042.0 587.0 C1044.5 586.6 1047.0 587.3 1050.0 587.5 C1053.0 587.7 1058.3 587.9 1060.0 588.0 M1038.0 587.0 C1037.5 585.7 1034.5 580.8 1035.0 579.0 C1035.5 577.2 1038.5 576.4 1041.0 576.0 C1043.5 575.6 1046.8 576.3 1050.0 576.4 C1053.2 576.5 1058.3 576.7 1060.0 576.8 M1043.0 565.0 C1042.7 566.0 1040.3 569.2 1041.0 571.0 C1041.7 572.8 1044.7 575.2 1047.0 576.0 C1049.3 576.8 1052.8 576.5 1055.0 575.5 C1057.2 574.5 1059.5 571.8 1060.0 570.0 C1060.5 568.2 1058.3 565.8 1058.0 565.0 M1041.0 563.6 C1042.7 563.6 1047.5 563.6 1051.0 563.6 C1054.5 563.6 1059.9 563.6 1061.7 563.6 M1061.7 560.8 C1059.4 560.6 1052.9 560.3 1047.8 559.4 C1042.7 558.5 1034.7 556.9 1031.0 555.3 C1027.3 553.7 1026.0 551.3 1025.6 549.7 C1025.1 548.1 1026.4 546.1 1028.3 545.6 C1030.2 545.1 1033.0 546.1 1036.7 547.0 C1040.4 547.9 1046.7 549.8 1050.6 551.0 C1054.5 552.2 1058.7 553.5 1060.3 554.0 M1054.0 535.6 C1055.0 535.4 1058.7 536.0 1060.0 534.4 C1061.3 532.8 1062.6 528.2 1061.6 525.8 C1060.6 523.3 1056.9 520.1 1054.0 519.7 C1051.1 519.3 1047.4 521.9 1044.4 523.3 C1041.4 524.7 1038.2 528.2 1036.0 528.2 C1033.8 528.2 1031.4 524.9 1031.0 523.3 C1030.6 521.7 1033.0 519.3 1033.4 518.5 M1027.3 511.0 C1030.1 511.1 1038.5 511.2 1044.0 511.3 C1049.5 511.4 1057.6 511.6 1060.3 511.7 M1044.4 507.5 L1043.2 516.0 M1038.3 503.8 C1039.9 503.8 1044.5 503.8 1048.0 503.8 C1051.5 503.8 1057.2 503.8 1059.0 503.8 M1040.8 502.6 C1040.4 501.6 1038.5 498.3 1038.3 496.5 C1038.1 494.7 1039.4 492.4 1039.6 491.6 M1049.3 490.3 C1049.3 489.3 1050.5 485.6 1049.3 484.2 C1048.1 482.8 1043.8 481.4 1042.0 481.8 C1040.2 482.2 1037.9 485.3 1038.3 486.7 C1038.7 488.1 1041.5 489.9 1044.4 490.3 C1047.3 490.7 1052.8 490.1 1055.5 489.1 C1058.2 488.1 1059.5 485.0 1060.3 484.2 M1049.3 478.0 C1049.3 477.0 1050.5 473.3 1049.3 472.0 C1048.1 470.7 1043.8 469.8 1042.0 470.2 C1040.2 470.6 1037.9 473.1 1038.3 474.5 C1038.7 475.9 1041.5 478.2 1044.4 478.7 C1047.3 479.2 1053.1 478.4 1055.5 477.5 C1057.9 476.6 1058.4 473.9 1059.0 473.2 M1023.7 464.7 C1026.6 464.8 1035.1 465.1 1041.0 465.3 C1046.9 465.5 1056.0 465.9 1059.0 466.0 M1040.8 459.8 L1040.8 469.6" fill="none" stroke="#111" stroke-width="5.6" stroke-linecap="round" stroke-linejoin="round"/>
<path d="M487.2 330.0 C486.3 329.8 483.0 327.8 481.6 328.5 C480.2 329.2 478.2 332.3 478.7 334.2 C479.2 336.1 483.2 337.8 484.4 339.8 C485.6 341.8 486.5 344.4 485.8 346.2 C485.1 348.0 482.0 350.3 480.2 350.5 C478.4 350.7 476.0 348.1 475.2 347.6 M498.6 335.6 C497.7 335.6 494.3 334.4 492.9 335.6 C491.5 336.8 490.0 340.8 490.0 342.7 C490.0 344.6 491.5 346.4 492.9 347.0 C494.3 347.6 497.7 346.3 498.6 346.2 M502.0 335.6 L502.8 344.8 M501.4 330.6 L501.6 331.0 M507.0 341.2 C507.7 340.7 510.6 339.6 511.3 338.4 C512.0 337.2 511.9 334.9 511.3 334.2 C510.7 333.5 508.7 333.3 507.8 334.2 C506.9 335.1 505.7 337.9 505.7 339.8 C505.7 341.7 506.6 344.7 507.8 345.5 C509.0 346.3 511.9 344.9 512.7 344.8 M515.6 334.2 L515.6 344.8 M516.3 337.0 C516.9 336.4 518.7 333.7 519.8 333.5 C520.9 333.3 522.1 333.8 522.7 335.6 C523.3 337.4 523.3 342.7 523.4 344.1 M532.6 333.5 C531.9 333.4 529.4 331.9 528.3 332.7 C527.2 333.5 526.2 336.6 526.2 338.4 C526.2 340.2 527.0 342.7 528.3 343.4 C529.6 344.1 533.0 342.8 534.0 342.7 M538.2 339.1 C539.4 338.5 543.2 337.4 545.3 335.6 C547.4 333.8 550.3 330.4 551.0 328.5 C551.7 326.6 550.8 324.4 549.6 324.2 C548.4 324.0 545.5 325.2 543.9 327.1 C542.2 329.0 540.2 333.0 539.7 335.6 C539.2 338.2 539.1 341.5 541.0 342.7 C542.9 343.9 547.5 343.2 551.0 342.7 C554.5 342.2 559.5 340.5 562.3 339.8 C565.1 339.1 567.0 338.6 568.0 338.4 M490.8 355.4 C490.7 357.3 490.4 362.2 490.0 366.7 C489.6 371.2 488.9 379.7 488.7 382.3 M487.2 359.7 C488.4 359.0 491.9 355.6 494.3 355.4 C496.7 355.1 500.4 356.5 501.4 358.2 C502.3 359.9 501.4 363.5 500.0 365.3 C498.6 367.1 492.9 367.9 492.9 368.9 C492.9 369.8 498.4 369.7 500.0 371.0 C501.6 372.3 503.3 375.1 502.8 376.7 C502.3 378.3 499.6 380.0 497.2 380.9 C494.8 381.8 490.1 382.1 488.7 382.3 M505.0 366.7 C505.1 368.1 505.1 373.5 505.7 375.2 C506.3 376.9 507.4 376.9 508.5 376.7 C509.6 376.5 511.3 375.5 512.0 373.8 C512.7 372.1 512.6 367.9 512.7 366.7 M512.7 366.7 L513.5 376.7 M517.0 368.2 L517.7 376.7 M521.2 376.7 C521.6 374.3 522.7 366.5 523.4 362.5 C524.1 358.5 524.9 355.0 525.5 352.6 C526.1 350.2 526.5 347.8 527.0 348.3 C527.5 348.8 528.5 351.8 528.3 355.4 C528.0 358.9 525.7 366.3 525.5 369.6 C525.3 372.9 526.0 374.1 527.0 375.2 C528.0 376.3 530.5 375.9 531.2 376.0 M541.0 366.7 C540.2 366.5 537.3 364.6 536.1 365.3 C534.9 366.0 533.9 369.2 534.0 371.0 C534.1 372.8 535.4 375.4 536.8 376.0 C538.2 376.6 541.5 374.8 542.5 374.5 M551.0 345.5 C550.5 348.8 549.2 360.4 548.2 365.3 C547.2 370.2 545.8 373.6 545.3 375.2 M553.8 365.3 L554.5 374.5 M559.5 365.3 L560.2 375.2 M560.2 368.2 C561.0 367.5 563.7 364.2 565.2 364.0 C566.7 363.8 568.5 365.1 569.4 366.7 C570.3 368.3 570.6 372.6 570.8 373.8 M582.2 358.2 C581.2 358.0 577.9 356.3 576.5 356.8 C575.1 357.3 573.5 359.6 573.7 361.0 C573.9 362.4 576.2 365.1 577.9 365.3 C579.5 365.6 582.6 363.0 583.6 362.5 M583.6 359.7 C585.2 359.0 590.4 355.2 593.5 355.4 C596.6 355.6 600.1 357.9 602.0 361.0 C603.9 364.1 605.0 370.0 604.8 373.8 C604.6 377.6 602.5 382.3 600.6 383.7 C598.7 385.1 595.1 383.9 593.5 382.3 C591.9 380.7 590.7 377.1 590.7 373.8 C590.7 370.5 591.6 366.3 593.5 362.5 C595.4 358.7 598.9 354.0 602.0 351.2 C605.1 348.4 609.5 346.0 611.9 345.5 C614.2 345.0 615.6 346.9 616.1 348.3 C616.6 349.7 614.9 353.1 614.7 354.0" fill="none" stroke="#111" stroke-width="2.6" stroke-linecap="round" stroke-linejoin="round"/>
<path d="M713.5 506.0 C713.1 507.7 711.6 512.8 711.0 516.0 C710.4 519.2 709.0 524.2 709.7 525.5 C710.4 526.8 713.4 524.6 715.0 524.0 C716.6 523.4 718.8 522.1 719.5 521.7 M722.5 515.0 L721.7 524.0 M733.0 501.5 L731.5 524.0 M732.2 518.0 C733.1 517.5 736.2 514.8 737.5 515.0 C738.8 515.2 740.0 518.0 739.7 519.5 C739.5 521.0 737.2 523.4 736.0 524.0 C734.8 524.6 732.8 523.2 732.2 523.0 M742.0 520.0 C742.8 519.5 745.9 518.1 746.5 517.0 C747.1 515.9 746.5 513.8 745.7 513.5 C745.0 513.2 742.8 513.8 742.0 515.0 C741.2 516.2 740.7 519.5 741.2 521.0 C741.7 522.5 743.6 523.9 745.0 524.0 C746.4 524.1 748.8 522.1 749.5 521.7 M751.7 515.0 L752.5 523.0 M752.8 517.2 C753.4 516.7 755.1 514.7 756.2 514.2 C757.3 513.7 758.7 514.2 759.2 514.2 M766.0 515.7 C765.2 515.6 762.6 514.2 761.5 515.0 C760.4 515.8 759.1 518.8 759.2 520.2 C759.3 521.6 761.1 523.1 762.2 523.2 C763.3 523.3 765.4 521.4 766.0 521.0 M766.7 515.0 C766.8 516.4 766.9 522.0 767.5 523.2 C768.1 524.5 769.2 524.6 770.5 522.5 C771.8 520.4 773.5 514.5 775.0 510.5 C776.5 506.5 778.2 500.8 779.5 498.5 C780.8 496.2 782.0 496.0 782.5 497.0 C783.0 498.0 783.2 501.2 782.5 504.5 C781.8 507.8 778.5 513.5 778.0 516.5 C777.5 519.5 778.0 521.8 779.5 522.5 C781.0 523.2 785.8 521.2 787.0 521.0 M798.2 521.7 C798.8 519.8 800.9 513.6 802.0 510.5 C803.1 507.4 804.0 503.2 805.0 503.0 C806.0 502.8 807.0 506.5 808.0 509.0 C809.0 511.5 810.5 516.5 811.0 518.0 M800.5 512.0 L809.5 511.2 M814.0 503.0 L815.5 521.0 M814.7 502.2 C815.6 501.8 818.6 499.6 820.0 500.0 C821.4 500.4 823.2 502.8 823.0 504.5 C822.8 506.2 819.2 509.5 818.5 510.5 M819.2 509.7 L824.5 519.5 M826.0 506.0 L832.0 504.5 M829.0 505.2 L828.2 520.2 M842.5 507.5 C841.8 507.2 839.2 505.5 838.0 506.0 C836.8 506.5 834.6 509.1 835.0 510.5 C835.4 511.9 839.0 513.0 840.2 514.2 C841.5 515.5 842.8 516.9 842.5 518.0 C842.2 519.1 840.1 520.8 838.7 521.0 C837.3 521.2 835.0 519.8 834.2 519.5 M721.0 530.0 C720.8 531.7 720.2 536.5 720.0 540.0 C719.8 543.5 719.6 549.2 719.5 551.0 M716.5 531.5 C717.8 531.0 722.0 528.2 724.0 528.5 C726.0 528.8 728.5 531.2 728.5 533.0 C728.5 534.8 723.9 537.5 724.0 539.0 C724.1 540.5 728.5 540.2 729.2 542.0 C730.0 543.8 729.9 547.9 728.5 549.5 C727.1 551.1 722.2 551.3 721.0 551.7 M731.5 540.5 C731.5 541.8 730.9 546.5 731.5 548.0 C732.1 549.5 734.1 550.0 735.2 549.5 C736.3 549.0 737.6 546.6 738.2 545.0 C738.8 543.4 738.9 540.6 739.0 539.7 M739.0 539.7 L739.7 549.5 M742.7 540.5 L743.5 549.5 M746.5 549.5 C747.0 547.5 748.5 541.0 749.5 537.5 C750.5 534.0 751.6 530.0 752.5 528.5 C753.4 527.0 754.5 527.2 754.7 528.5 C755.0 529.8 754.5 532.8 754.0 536.0 C753.5 539.2 751.5 545.8 751.7 548.0 C752.0 550.2 754.9 549.2 755.5 549.5 M763.0 542.0 C762.2 541.9 759.5 540.5 758.5 541.2 C757.5 542.0 756.8 545.1 757.0 546.5 C757.2 547.9 758.8 549.4 760.0 549.5 C761.2 549.6 763.8 547.6 764.5 547.2 M767.5 527.0 C767.2 529.8 766.0 539.8 766.0 543.5 C766.0 547.2 767.2 548.5 767.5 549.5 M771.2 542.0 L772.0 549.5 M775.7 542.7 L776.5 550.2 M776.5 544.2 C777.1 543.6 779.1 540.8 780.2 540.5 C781.3 540.2 782.6 541.2 783.2 542.7 C783.8 544.2 783.9 548.4 784.0 549.5 M793.0 541.2 C792.2 541.1 789.5 539.9 788.5 540.5 C787.5 541.1 786.8 543.8 787.0 545.0 C787.2 546.2 788.9 548.0 790.0 548.0 C791.1 548.0 793.1 545.5 793.7 545.0 M793.7 543.5 C795.1 542.5 799.4 539.0 802.0 537.5 C804.6 536.0 808.0 533.8 809.5 534.5 C811.0 535.2 812.0 538.5 811.0 542.0 C810.0 545.5 806.0 551.5 803.5 555.5 C801.0 559.5 798.0 564.5 796.0 566.0 C794.0 567.5 792.2 566.2 791.5 564.5 C790.8 562.8 790.5 558.8 791.5 555.5 C792.5 552.2 796.5 546.8 797.5 545.0" fill="none" stroke="#111" stroke-width="3" stroke-linecap="round" stroke-linejoin="round"/>
<path d="M263.0 421.0 C263.2 419.5 264.0 414.5 264.5 412.0 C265.0 409.5 265.8 407.0 266.0 406.0 M266.0 406.0 C266.5 405.8 268.2 404.2 269.0 405.0 C269.8 405.8 270.6 408.7 271.0 411.0 C271.4 413.3 271.4 417.7 271.5 419.0 M271.5 410.0 C271.9 409.2 273.2 405.3 274.0 405.0 C274.8 404.7 276.0 405.7 276.5 408.0 C277.0 410.3 276.9 417.2 277.0 419.0 M283.0 409.0 C282.5 408.9 280.7 407.7 280.0 408.5 C279.3 409.3 278.8 412.4 279.0 414.0 C279.2 415.6 280.0 417.5 281.0 418.0 C282.0 418.5 284.3 417.2 285.0 417.0 M293.0 419.0 C293.2 417.7 293.3 413.2 294.0 411.0 C294.7 408.8 296.0 406.3 297.0 406.0 C298.0 405.7 299.3 407.2 300.0 409.0 C300.7 410.8 300.8 415.7 301.0 417.0 M301.0 411.0 C301.5 409.7 303.2 404.0 304.0 403.0 C304.8 402.0 305.5 403.0 306.0 405.0 C306.5 407.0 306.8 413.3 307.0 415.0 M309.0 409.0 C309.0 410.0 308.7 413.7 309.0 415.0 C309.3 416.3 310.2 417.0 311.0 417.0 C311.8 417.0 313.3 416.3 314.0 415.0 C314.7 413.7 314.8 410.0 315.0 409.0 M315.0 409.0 C315.1 410.3 315.2 415.7 315.5 417.0 C315.8 418.3 316.4 418.2 317.0 417.0 C317.6 415.8 318.3 412.3 319.0 410.0 C319.7 407.7 320.5 403.3 321.0 403.0 C321.5 402.7 322.0 406.0 322.0 408.0 C322.0 410.0 320.8 413.5 321.0 415.0 C321.2 416.5 322.5 416.7 323.0 417.0 C323.5 417.3 323.5 418.2 324.0 417.0 C324.5 415.8 325.2 412.3 326.0 410.0 C326.8 407.7 328.3 403.3 329.0 403.0 C329.7 402.7 330.2 406.0 330.0 408.0 C329.8 410.0 327.8 413.5 328.0 415.0 C328.2 416.5 330.5 416.7 331.0 417.0 M333.0 413.0 C333.7 412.7 336.2 411.8 337.0 411.0 C337.8 410.2 338.3 408.7 338.0 408.0 C337.7 407.3 335.8 406.5 335.0 407.0 C334.2 407.5 333.2 409.5 333.0 411.0 C332.8 412.5 333.2 415.0 334.0 416.0 C334.8 417.0 337.3 416.8 338.0 417.0 M340.0 409.0 L340.5 417.0 M340.5 411.0 C341.1 410.5 342.9 408.2 344.0 408.0 C345.1 407.8 346.2 409.2 347.0 410.0 C347.8 410.8 347.7 412.3 349.0 413.0 C350.3 413.7 353.2 413.9 355.0 414.0 C356.8 414.1 359.2 413.6 360.0 413.5 M268.0 429.0 C267.8 430.8 267.0 436.2 266.5 440.0 C266.0 443.8 265.2 450.0 265.0 452.0 M280.0 429.0 C279.8 430.8 279.0 436.7 278.5 440.0 C278.0 443.3 277.2 447.5 277.0 449.0 M267.0 440.0 L279.0 440.0 M285.0 438.0 C284.3 438.0 281.8 437.0 281.0 438.0 C280.2 439.0 279.7 442.5 280.0 444.0 C280.3 445.5 282.0 447.2 283.0 447.0 C284.0 446.8 285.4 444.5 286.0 443.0 C286.6 441.5 286.4 438.8 286.5 438.0 M286.5 438.0 C286.6 439.5 286.2 447.2 287.0 447.0 C287.8 446.8 289.5 439.8 291.0 437.0 C292.5 434.2 294.8 431.0 296.0 430.0 C297.2 429.0 298.0 429.3 298.0 431.0 C298.0 432.7 296.7 437.3 296.0 440.0 C295.3 442.7 293.8 445.7 294.0 447.0 C294.2 448.3 296.3 447.8 297.0 448.0 C297.7 448.2 296.8 449.8 298.0 448.0 C299.2 446.2 301.8 440.5 304.0 437.0 C306.2 433.5 309.5 428.3 311.0 427.0 C312.5 425.7 313.2 427.2 313.0 429.0 C312.8 430.8 311.0 435.0 310.0 438.0 C309.0 441.0 306.7 445.1 307.0 447.0 C307.3 448.9 310.2 449.5 312.0 449.5 C313.8 449.5 317.0 447.4 318.0 447.0" fill="none" stroke="#111" stroke-width="3.9" stroke-linecap="round" stroke-linejoin="round"/>
<path d="M718.7 222.0 C717.4 222.3 712.5 222.1 710.7 224.0 C708.9 225.9 708.7 230.2 708.0 233.3 C707.3 236.4 705.8 241.1 706.7 242.7 C707.6 244.3 711.3 243.1 713.3 242.7 C715.3 242.2 717.8 240.4 718.7 240.0 M709.3 233.3 L714.7 232.0 M724.0 222.7 L722.7 238.7 M724.0 222.0 C725.1 221.9 729.2 220.5 730.7 221.3 C732.2 222.1 733.1 224.5 733.3 226.7 C733.5 228.9 733.1 232.7 732.0 234.7 C730.9 236.7 728.2 238.0 726.7 238.7 C725.2 239.4 723.4 238.7 722.7 238.7 M736.0 224.0 C736.0 225.8 735.3 232.2 736.0 234.7 C736.7 237.1 738.7 238.5 740.0 238.7 C741.3 238.9 743.1 238.4 744.0 236.0 C744.9 233.6 745.1 226.0 745.3 224.0 M756.0 224.0 C755.1 224.0 752.0 222.9 750.7 224.0 C749.4 225.1 748.2 228.5 748.0 230.7 C747.8 232.9 748.0 236.2 749.3 237.3 C750.6 238.4 754.9 237.3 756.0 237.3 M756.0 237.3 C756.7 235.5 758.9 229.4 760.0 226.7 C761.1 224.0 761.8 221.3 762.7 221.3 C763.6 221.3 764.4 224.2 765.3 226.7 C766.2 229.1 767.5 234.4 768.0 236.0 M758.7 232.0 L766.7 230.7 M768.0 222.7 L777.3 221.3 M772.7 222.0 L772.0 236.0 M780.0 226.7 L780.0 233.3 M788.0 226.7 C787.3 226.9 784.5 226.9 784.0 228.0 C783.5 229.1 784.2 232.6 785.3 233.3 C786.4 234.0 789.8 233.0 790.7 232.0 C791.6 231.0 791.2 228.2 790.7 227.3 C790.2 226.4 788.5 226.8 788.0 226.7 M793.3 225.3 L794.7 232.0 M794.7 226.7 C795.4 226.2 797.2 224.0 798.7 224.0 C800.2 224.0 802.2 225.6 804.0 226.7 C805.8 227.8 807.1 229.8 809.3 230.7 C811.5 231.6 815.5 232.0 817.3 232.0 C819.1 232.0 819.5 230.9 820.0 230.7 M725.3 256.0 C725.1 258.2 724.4 265.3 724.0 269.3 C723.6 273.3 722.9 278.2 722.7 280.0 M720.0 260.0 C721.1 259.1 724.5 254.9 726.7 254.7 C728.9 254.5 732.6 256.9 733.3 258.7 C734.0 260.5 732.0 263.8 730.7 265.3 C729.4 266.9 724.9 267.3 725.3 268.0 C725.7 268.7 731.7 268.0 733.3 269.3 C734.9 270.6 735.6 274.2 734.7 276.0 C733.8 277.8 730.1 279.3 728.0 280.0 C725.9 280.7 723.0 280.0 722.0 280.0 M738.7 262.7 C738.7 264.0 738.3 268.9 738.7 270.7 C739.1 272.5 740.2 273.5 741.3 273.3 C742.4 273.1 744.4 271.1 745.3 269.3 C746.2 267.5 746.5 263.8 746.7 262.7 M746.7 262.7 L747.3 272.0 M750.7 262.7 L751.3 270.7 M754.7 270.7 C755.4 268.2 757.6 260.4 758.7 256.0 C759.8 251.6 760.6 244.0 761.3 244.0 C762.0 244.0 762.7 251.8 762.7 256.0 C762.7 260.2 761.5 267.1 761.3 269.3 M772.0 257.3 C771.1 257.1 767.8 254.9 766.7 256.0 C765.6 257.1 765.1 262.0 765.3 264.0 C765.5 266.0 766.9 267.8 768.0 268.0 C769.1 268.2 771.3 265.8 772.0 265.3 M777.3 242.7 C776.9 244.9 775.4 252.0 774.7 256.0 C774.0 260.0 773.5 264.9 773.3 266.7 M780.0 256.0 L780.0 264.0 M784.0 256.0 L784.0 264.0 M784.7 258.7 C785.2 257.8 786.8 253.8 788.0 253.3 C789.2 252.9 791.1 254.4 792.0 256.0 C792.9 257.6 793.1 261.6 793.3 262.7 M805.3 253.3 C804.6 253.1 802.4 251.6 801.3 252.0 C800.2 252.4 798.7 254.7 798.7 256.0 C798.7 257.3 800.2 259.8 801.3 260.0 C802.4 260.2 804.6 257.8 805.3 257.3 M805.3 256.0 C806.6 256.4 811.1 257.4 813.3 258.7 C815.5 260.0 818.0 262.0 818.7 264.0 C819.4 266.0 818.4 269.1 817.3 270.7 C816.2 272.2 813.8 273.0 812.0 273.3 C810.2 273.6 807.6 272.8 806.7 272.7" fill="none" stroke="#111" stroke-width="2.8" stroke-linecap="round" stroke-linejoin="round"/>
<path d="M548.4 581.3 C548.8 582.4 550.0 585.8 551.0 588.0 C552.0 590.2 553.4 594.8 554.7 594.7 C556.0 594.6 558.0 588.8 558.7 587.6 M557.5 584.0 L561.8 578.0 M559.0 562.7 C559.5 563.9 561.0 567.6 562.0 570.0 C563.0 572.4 564.5 575.8 565.0 577.0 M565.8 577.0 C566.4 576.2 569.0 573.6 569.3 572.4 C569.6 571.2 568.3 569.6 567.6 569.8 C566.9 569.9 565.4 572.7 565.0 573.3 M569.3 569.8 C569.9 568.6 572.0 564.5 573.0 562.7 C574.0 560.9 575.2 559.6 575.6 559.0 M573.8 563.6 C574.4 562.8 576.4 560.3 577.3 559.0 C578.2 557.7 578.2 556.5 579.0 555.6 C579.8 554.7 581.3 554.1 581.8 553.8 M578.0 555.0 C578.3 554.0 579.1 550.5 580.0 549.3 C580.9 548.1 583.0 547.9 583.6 547.6 M585.3 537.8 C585.6 539.0 586.2 543.8 587.0 545.0 C587.8 546.2 588.9 547.5 589.8 545.0 C590.7 542.5 592.0 532.3 592.4 529.8 M592.4 529.8 C592.8 531.8 594.2 537.9 595.0 542.0 C595.8 546.1 596.6 552.6 596.9 554.7" fill="none" stroke="#111" stroke-width="3.4" stroke-linecap="round" stroke-linejoin="round"/>
<path d="M149.5 890.0 C149.6 888.0 149.5 882.0 150.0 878.0 C150.5 874.0 150.8 868.8 152.5 866.0 C154.2 863.2 158.2 860.0 160.0 861.5 C161.8 863.0 162.5 869.8 163.0 875.0 C163.5 880.2 163.0 890.0 163.0 893.0 M145.0 879.5 C147.5 879.1 154.5 877.8 160.0 877.0 C165.5 876.2 175.0 875.3 178.0 875.0 M170.5 861.5 L176.5 875.0 M168.0 854.0 L168.3 854.5 M178.0 863.0 C178.5 861.5 179.8 855.8 181.0 854.0 C182.2 852.2 184.8 852.3 185.5 852.0 M193.0 840.5 L196.0 860.0 M194.5 834.5 C195.8 833.5 200.2 828.5 202.0 828.5 C203.8 828.5 205.2 832.8 205.0 834.5 C204.8 836.2 201.2 838.2 200.5 839.0 M211.0 830.0 C210.2 831.0 206.5 834.5 206.5 836.0 C206.5 837.5 209.5 839.5 211.0 839.0 C212.5 838.5 215.2 834.8 215.5 833.0 C215.8 831.2 213.2 829.0 212.5 828.5 C211.8 828.0 211.2 829.8 211.0 830.0 M217.0 833.0 C217.5 831.5 218.5 826.0 220.0 824.0 C221.5 822.0 225.0 821.5 226.0 821.0 M226.0 807.5 C226.7 808.4 228.5 811.0 230.0 813.0 C231.5 815.0 234.2 818.4 235.0 819.5 M220.0 815.0 L238.0 810.5 M247.0 800.0 C247.3 801.7 248.2 806.5 249.0 810.0 C249.8 813.5 251.1 819.2 251.5 821.0 M245.5 798.5 C247.2 797.2 253.2 791.5 256.0 791.0 C258.8 790.5 261.8 793.2 262.0 795.5 C262.2 797.8 259.5 802.8 257.5 804.5 C255.5 806.2 251.2 805.8 250.0 806.0 M254.5 806.0 L260.5 813.5 M277.0 798.5 C276.0 799.0 271.8 800.2 271.0 801.5 C270.2 802.8 271.2 805.5 272.5 806.0 C273.8 806.5 277.2 805.5 278.5 804.5 C279.8 803.5 279.8 800.8 280.0 800.0 M287.5 782.0 C286.2 785.0 279.8 796.8 280.0 800.0 C280.2 803.2 286.2 801.5 289.0 801.5 C291.8 801.5 295.2 800.2 296.5 800.0" fill="none" stroke="#111" stroke-width="2.4" stroke-linecap="round" stroke-linejoin="round"/>
<path d="M861.8 371.0 C860.4 371.4 855.4 371.4 853.2 373.2 C851.0 375.0 848.4 379.6 848.8 381.8 C849.1 384.0 852.8 384.8 855.3 386.2 C857.8 387.6 862.9 388.3 864.0 390.5 C865.1 392.7 863.6 397.4 861.8 399.2 C860.0 401.0 855.0 401.5 853.2 401.3 C851.4 401.1 851.4 398.6 851.0 398.0 M866.2 378.0 C866.2 380.0 865.1 387.6 866.2 390.0 C867.3 392.4 870.7 394.1 872.7 392.7 C874.7 391.3 877.1 385.1 878.0 381.8 C878.9 378.6 878.0 374.6 878.0 373.2 M878.0 373.2 C878.2 375.2 878.7 381.9 879.0 385.0 C879.3 388.1 879.8 390.8 880.0 392.0 M881.3 371.0 C880.9 374.5 879.7 385.5 879.0 392.0 C878.3 398.5 877.3 407.0 877.0 410.0 M881.3 371.0 C882.8 369.6 887.8 362.7 890.0 362.3 C892.2 361.9 894.7 366.3 894.3 368.8 C893.9 371.3 890.0 376.1 887.8 377.5 C885.6 378.9 882.4 377.5 881.3 377.5 M894.3 371.0 C895.4 370.3 899.3 368.5 900.8 366.7 C902.2 364.9 903.4 361.6 903.0 360.2 C902.6 358.8 900.2 357.3 898.7 358.0 C897.2 358.7 894.8 362.0 894.3 364.5 C893.8 367.0 893.9 372.1 895.4 373.2 C896.9 374.3 901.7 371.4 903.0 371.0 M905.2 364.5 C905.9 362.7 908.4 356.9 909.5 353.7 C910.6 350.4 910.6 347.5 911.7 345.0 C912.8 342.5 915.3 339.6 916.0 338.5 M866.2 407.8 C868.7 406.0 875.9 401.3 881.3 397.0 C886.7 392.7 895.8 384.3 898.7 381.8 M886.5 393.5 C886.1 395.6 884.7 401.8 884.0 406.0 C883.3 410.2 882.7 416.6 882.4 418.7 M903.0 394.8 C901.9 395.2 897.8 394.8 896.5 397.0 C895.2 399.2 894.3 406.0 895.4 407.8 C896.5 409.6 900.6 410.0 903.0 407.8 C905.4 405.6 908.4 397.0 909.5 394.8 M909.5 394.8 C909.5 397.0 909.1 405.6 909.5 407.8 C909.9 410.0 910.6 411.1 911.7 407.8 C912.8 404.6 914.2 395.2 916.0 388.3 C917.8 381.4 920.7 370.7 922.5 366.7 C924.3 362.7 926.1 363.1 926.8 364.5 C927.5 365.9 927.9 370.6 926.8 375.3 C925.7 380.0 921.0 388.4 920.3 392.7 C919.6 397.0 921.0 400.6 922.5 401.3 C924.0 402.0 927.2 399.9 929.0 397.0 C930.8 394.1 931.8 388.3 933.3 384.0 C934.8 379.7 936.2 373.2 937.7 371.0 C939.2 368.8 941.6 369.2 942.0 371.0 C942.4 372.8 940.9 378.6 939.8 381.8 C938.7 385.1 935.5 389.1 935.5 390.5 C935.5 391.9 938.3 391.0 939.8 390.5 C941.2 390.0 943.5 387.8 944.2 387.3 M878.0 427.3 C877.8 429.6 877.0 436.3 876.5 441.0 C876.0 445.7 875.1 453.1 874.8 455.5 M872.7 429.5 C874.5 428.4 880.6 423.4 883.5 423.0 C886.4 422.6 890.0 424.8 890.0 427.3 C890.0 429.8 883.1 436.0 883.5 438.2 C883.9 440.4 891.1 438.1 892.2 440.3 C893.3 442.5 892.5 448.3 890.0 451.2 C887.5 454.1 879.2 456.6 877.0 457.7 M894.3 436.0 C894.3 437.8 893.6 444.6 894.3 446.8 C895.0 449.0 897.2 449.7 898.7 449.0 C900.2 448.3 902.1 445.0 903.0 442.5 C903.9 440.0 903.8 435.2 904.0 433.8 M904.0 431.7 L905.2 446.8 M909.5 429.5 L911.7 442.5 M916.0 442.5 C916.7 440.0 918.8 432.4 920.3 427.3 C921.8 422.2 923.6 414.4 924.7 412.2 C925.8 410.0 927.0 411.4 926.8 414.3 C926.6 417.2 924.3 425.2 923.6 429.5 C922.9 433.8 922.7 438.5 922.5 440.3 M931.2 420.8 C930.5 421.2 927.5 421.2 926.8 423.0 C926.1 424.8 925.7 430.2 926.8 431.7 C927.9 433.1 932.2 431.7 933.3 431.7 M937.7 401.3 C937.0 404.6 934.2 415.7 933.3 420.8 C932.4 425.9 932.5 429.9 932.3 431.7 M937.7 420.8 L938.8 429.5 M942.0 418.7 L943.1 429.5 M943.1 420.8 C943.8 419.4 945.8 412.9 947.4 412.2 C949.0 411.5 951.9 414.3 952.8 416.5 C953.7 418.7 952.8 423.8 952.8 425.2 M948.5 401.3 C947.8 401.7 944.7 402.1 944.2 403.5 C943.7 404.9 944.2 409.3 945.3 410.0 C946.4 410.7 949.8 408.2 950.7 407.8 M951.8 397.0 C952.7 399.9 955.9 410.0 957.2 414.3 C958.5 418.6 959.8 420.5 959.4 423.0 C959.0 425.5 956.5 428.8 955.0 429.5 C953.5 430.2 951.4 427.7 950.7 427.3 M961.5 364.5 L963.7 384.0 M968.0 392.7 L968.3 393.2" fill="none" stroke="#111" stroke-width="3" stroke-linecap="round" stroke-linejoin="round"/>
<path d="M937.3 480.3 C936.4 480.7 933.2 480.9 932.0 482.5 C930.8 484.1 930.3 487.8 929.8 490.0 C929.3 492.2 928.8 494.8 929.0 496.0 C929.2 497.2 930.2 497.6 931.3 497.5 C932.4 497.4 935.0 495.7 935.8 495.3 M930.5 490.0 L934.3 488.5 M938.8 493.8 C939.3 492.7 940.9 488.9 941.8 487.0 C942.7 485.1 943.2 482.5 944.0 482.5 C944.8 482.5 945.7 485.5 946.3 487.0 C946.9 488.5 947.5 490.8 947.8 491.5 M941.0 490.0 L947.0 488.5 M956.0 479.5 C955.5 479.4 953.9 478.4 953.0 478.8 C952.1 479.2 950.8 480.9 950.8 481.8 C950.8 482.7 952.2 483.2 953.0 484.0 C953.8 484.8 955.3 485.6 955.3 486.3 C955.3 487.1 953.9 488.2 953.0 488.5 C952.1 488.8 950.5 487.9 950.0 487.8 M956.8 472.8 L968.0 466.8 M962.0 470.5 L963.5 480.3 M944.8 503.5 C944.2 504.0 941.8 505.0 941.0 506.5 C940.2 508.0 940.3 510.8 940.3 512.5 C940.3 514.2 940.2 516.5 941.0 517.0 C941.8 517.5 944.2 515.8 944.8 515.5 M941.0 511.0 L944.8 509.5 M947.0 512.5 C947.2 510.8 947.5 502.6 948.5 502.0 C949.5 501.4 951.9 509.4 953.0 508.8 C954.1 508.2 954.9 500.1 955.3 498.3 M954.5 496.8 L962.0 493.0 M958.3 495.3 L960.5 502.0 M965.0 488.5 L967.3 498.3 M965.0 487.8 C965.6 487.3 967.9 484.7 968.8 484.8 C969.7 484.9 970.5 487.4 970.3 488.5 C970.0 489.6 967.8 491.0 967.3 491.5 M968.0 491.5 L972.5 495.3 M972.5 494.5 C973.0 493.2 974.8 489.1 975.5 487.0 C976.2 484.9 976.4 481.8 977.0 481.8 C977.6 481.8 978.8 485.2 979.3 487.0 C979.8 488.8 979.9 491.4 980.0 492.3 M974.8 489.3 L979.3 488.5 M982.3 488.5 C982.5 485.5 983.2 471.5 983.8 470.5 C984.4 469.5 985.4 482.4 986.0 482.5 C986.6 482.6 987.2 473.2 987.5 471.3 M994.3 472.8 C993.8 473.2 991.9 473.9 991.3 475.0 C990.7 476.1 990.1 478.4 990.5 479.5 C990.9 480.6 992.5 481.7 993.5 481.8 C994.5 481.9 996.0 480.6 996.5 480.3 M1003.3 473.5 C1002.8 473.5 1001.2 473.0 1000.3 473.5 C999.4 474.0 998.1 475.5 998.0 476.5 C997.9 477.5 998.5 479.4 999.5 479.5 C1000.5 479.6 1003.2 477.7 1004.0 477.3 M998.0 467.5 L1001.8 465.3" fill="none" stroke="#111" stroke-width="2.6" stroke-linecap="round" stroke-linejoin="round"/>
<path d="M859.0 824.0 C857.7 824.7 853.2 826.0 851.0 828.0 C848.8 830.0 847.3 832.7 846.0 836.0 C844.7 839.3 843.0 845.0 843.0 848.0 C843.0 851.0 843.8 853.3 846.0 854.0 C848.2 854.7 853.2 853.3 856.0 852.0 C858.8 850.7 861.8 847.0 863.0 846.0 M846.0 838.0 L856.0 836.0 M969.5 834.0 C969.9 837.0 970.4 850.4 971.7 852.0 C973.0 853.6 975.4 844.0 977.3 843.8 C979.2 843.6 981.4 852.6 983.0 851.0 C984.6 849.4 986.3 836.8 987.0 834.0 M919.0 895.0 C919.3 892.6 919.2 881.0 920.7 880.7 C922.2 880.4 926.3 893.9 927.7 893.4 C929.1 892.9 928.8 880.4 929.0 877.8 M915.0 798.5 C914.0 798.2 910.6 796.5 909.3 797.0 C908.0 797.5 906.6 800.1 907.0 801.3 C907.4 802.5 910.2 803.0 911.5 804.0 C912.8 805.0 915.0 805.8 915.0 807.0 C915.0 808.2 912.9 810.4 911.5 811.0 C910.1 811.6 907.3 810.6 906.5 810.5" fill="none" stroke="#111" stroke-width="3.2" stroke-linecap="round" stroke-linejoin="round"/>
<path d="M560.0 663.0 C560.0 664.5 559.9 668.9 559.8 672.0 C559.7 675.1 559.6 679.9 559.6 681.5 M553.0 671.6 C554.0 671.3 556.8 671.1 559.0 670.0 C561.2 668.9 564.5 666.5 566.0 665.0 C567.5 663.5 568.5 662.0 568.3 661.0 C568.1 660.0 566.2 659.0 564.8 659.3 C563.4 659.6 560.8 662.4 560.0 663.0 M576.5 672.0 C575.9 671.8 574.1 670.5 573.0 671.0 C571.9 671.5 570.2 673.7 570.0 675.0 C569.8 676.3 571.0 678.3 572.0 678.6 C573.0 678.9 575.2 677.9 576.0 676.8 C576.8 675.7 576.7 671.7 577.0 672.0 C577.3 672.3 577.6 677.5 577.7 678.6 M581.0 672.0 L582.3 679.0 M582.3 673.3 C582.9 672.9 584.7 671.4 585.8 671.0 C586.9 670.6 588.3 671.0 588.8 671.0 M594.0 660.5 C593.6 662.0 592.2 666.7 591.7 669.8 C591.2 672.9 591.1 677.5 591.0 679.0 M591.7 673.3 C592.5 672.3 595.3 667.9 596.3 667.5 C597.3 667.1 597.9 669.8 597.5 671.0 C597.1 672.2 594.0 673.3 594.0 674.5 C594.0 675.7 596.5 677.4 597.5 678.0 C598.5 678.6 599.6 678.0 600.0 678.0 M605.7 669.8 L606.3 678.0 M612.7 671.0 L613.3 678.0 M613.8 673.3 C614.4 672.7 616.1 670.0 617.3 669.8 C618.5 669.6 620.0 670.6 620.8 672.0 C621.6 673.4 621.8 677.0 622.0 678.0 M630.0 669.8 C629.5 669.9 627.5 669.5 626.7 670.4 C626.0 671.3 625.1 673.9 625.5 675.0 C625.9 676.1 627.9 677.1 629.0 676.8 C630.1 676.5 631.5 673.9 632.0 673.3 M632.0 671.0 C633.5 670.6 638.1 668.8 640.7 668.7 C643.3 668.6 646.2 669.2 647.7 670.4 C649.2 671.6 649.8 673.7 650.0 675.7 C650.2 677.8 649.4 681.9 648.8 682.7 C648.2 683.5 646.5 682.2 646.5 680.3 C646.5 678.3 647.2 673.3 648.8 671.0 C650.3 668.7 653.1 667.3 655.8 666.3 C658.5 665.3 661.9 664.4 665.0 665.2 C668.1 666.0 672.9 670.0 674.5 671.0" fill="none" stroke="#111" stroke-width="1.9" stroke-linecap="round" stroke-linejoin="round"/>
<path d="M40.0 139.0 C38.3 139.7 32.8 139.8 30.0 143.0 C27.2 146.2 24.7 152.2 23.0 158.0 C21.3 163.8 19.3 173.5 20.0 178.0 C20.7 182.5 24.0 184.7 27.0 185.0 C30.0 185.3 36.2 180.8 38.0 180.0 M50.0 165.0 C48.5 165.8 42.7 167.2 41.0 170.0 C39.3 172.8 38.9 180.3 40.0 182.0 C41.1 183.7 45.4 182.4 47.5 180.0 C49.6 177.6 51.4 167.2 52.5 167.5 C53.6 167.8 52.8 179.9 54.0 182.0 C55.2 184.1 59.0 180.3 60.0 180.0 M62.5 165.0 L65.0 177.5 M65.0 175.0 C65.7 173.8 67.3 169.2 69.0 167.5 C70.7 165.8 73.6 163.3 75.0 165.0 C76.4 166.7 77.1 175.4 77.5 177.5 M82.5 160.0 C82.9 161.7 83.3 168.8 85.0 170.0 C86.7 171.2 90.2 169.6 92.5 167.5 C94.8 165.4 97.9 159.2 99.0 157.5 M99.0 157.5 C99.6 160.0 102.3 168.1 102.5 172.5 C102.7 176.9 100.4 182.1 100.0 184.0 M117.5 147.5 C116.7 148.8 112.5 151.7 112.5 155.0 C112.5 158.3 115.4 166.2 117.5 167.5 C119.6 168.8 123.3 165.0 125.0 162.5 C126.7 160.0 128.3 155.4 127.5 152.5 C126.7 149.6 121.7 145.8 120.0 145.0 C118.3 144.2 117.9 147.1 117.5 147.5 M136.0 155.0 L140.0 170.0 M140.0 168.0 C140.8 165.8 142.5 158.0 145.0 155.0 C147.5 152.0 151.7 148.3 155.0 150.0 C158.3 151.7 161.7 160.8 165.0 165.0 C168.3 169.2 170.8 173.3 175.0 175.0 C179.2 176.7 184.6 176.5 190.0 175.0 C195.4 173.5 204.6 167.5 207.5 166.0" fill="none" stroke="#111" stroke-width="2.2" stroke-linecap="round" stroke-linejoin="round"/>
<path d="M1029.6 451.0 C1031.2 451.8 1035.9 454.8 1039.4 455.8 C1042.9 456.7 1046.9 457.4 1050.6 456.6 C1054.3 455.8 1059.9 451.9 1061.8 451.0 M1059.0 448.2 L1031.0 448.2 M1031.0 448.2 C1031.1 446.8 1030.6 441.7 1031.6 439.8 C1032.5 437.9 1034.6 437.0 1036.6 437.0 C1038.6 437.0 1042.1 437.9 1043.3 439.8 C1044.5 441.7 1043.8 446.8 1043.9 448.2 M1043.9 448.2 C1044.1 446.5 1043.6 439.9 1045.0 437.8 C1046.4 435.7 1049.9 435.5 1052.0 435.6 C1054.1 435.7 1056.4 436.3 1057.6 438.4 C1058.8 440.5 1058.8 446.6 1059.0 448.2 M1043.6 432.5 C1045.5 432.5 1052.2 433.0 1054.8 432.5 C1057.4 432.1 1058.5 431.0 1059.0 429.7 C1059.5 428.5 1058.8 426.2 1057.6 425.0 C1056.4 423.7 1052.9 422.6 1052.0 422.2 M1043.6 422.2 L1059.0 422.2 M1035.2 415.2 C1038.7 415.2 1052.2 415.5 1056.2 415.2 C1060.2 414.8 1058.7 414.0 1059.0 413.2 C1059.3 412.4 1058.3 410.9 1058.2 410.4 M1043.6 419.4 L1043.6 410.1" fill="none" stroke="#111" stroke-width="2.6" stroke-linecap="round" stroke-linejoin="round"/>
<path d="M1043.6 394.0 C1046.2 393.5 1058.3 391.9 1059.0 390.9 C1059.7 389.8 1047.8 388.8 1047.8 387.7 C1047.8 386.6 1059.7 385.6 1059.0 384.6 C1058.3 383.5 1046.2 381.9 1043.6 381.4 M1052.0 379.3 C1051.7 378.1 1051.1 373.5 1050.0 372.4 C1049.0 371.2 1046.9 371.9 1045.8 372.4 C1044.8 372.9 1043.5 374.3 1043.6 375.3 C1043.7 376.4 1044.8 377.9 1046.4 378.7 C1048.0 379.4 1051.4 380.0 1053.4 379.7 C1055.4 379.5 1057.5 378.3 1058.4 377.2 C1059.4 376.1 1059.3 374.1 1059.0 373.0 C1058.7 371.9 1057.1 371.2 1056.8 370.9" fill="none" stroke="#111" stroke-width="2.6" stroke-linecap="round" stroke-linejoin="round"/>
<path d="M1046.4 343.9 C1045.9 344.5 1043.6 346.2 1043.6 347.6 C1043.6 349.0 1044.8 351.5 1046.4 352.5 C1048.0 353.6 1051.3 354.2 1053.4 354.0 C1055.5 353.8 1058.4 352.6 1059.0 351.3 C1059.6 350.0 1058.4 347.6 1056.8 346.4 C1055.1 345.1 1050.5 344.3 1049.2 343.9 M1043.6 343.9 C1045.7 343.9 1053.6 344.2 1056.2 343.9 C1058.8 343.6 1058.5 342.5 1059.0 342.2 M1043.6 339.5 L1059.0 339.5 M1049.2 339.5 C1048.4 339.1 1045.4 338.0 1044.4 337.0 C1043.5 336.0 1043.5 334.3 1043.6 333.3 C1043.7 332.4 1044.8 331.7 1045.0 331.3 M1052.0 329.6 C1051.7 328.3 1051.1 322.8 1050.0 321.5 C1049.0 320.1 1046.9 320.9 1045.8 321.5 C1044.8 322.1 1043.5 323.7 1043.6 324.9 C1043.7 326.2 1044.8 328.0 1046.4 328.9 C1048.0 329.7 1051.4 330.4 1053.4 330.1 C1055.4 329.8 1057.5 328.5 1058.4 327.2 C1059.4 325.8 1059.3 323.5 1059.0 322.2 C1058.7 321.0 1057.1 320.2 1056.8 319.8" fill="none" stroke="#111" stroke-width="2.6" stroke-linecap="round" stroke-linejoin="round"/>
<path d="M1043.6 304.8 L1059.0 304.8 M1048.4 304.8 C1047.6 304.2 1044.1 302.5 1043.6 301.2 C1043.1 299.9 1044.4 297.8 1045.6 297.0 C1046.7 296.1 1048.4 296.2 1050.6 296.0 C1052.8 295.8 1057.6 296.0 1059.0 296.0 M1043.6 287.7 C1044.1 288.4 1044.8 291.1 1046.4 292.0 C1048.0 292.8 1051.3 293.4 1053.4 292.9 C1055.5 292.4 1058.4 290.3 1059.0 288.9 C1059.6 287.4 1058.2 285.1 1056.8 284.1 C1055.4 283.1 1052.6 282.7 1050.6 282.7 C1048.6 282.7 1046.2 283.3 1045.0 284.1 C1043.8 284.9 1043.8 287.1 1043.6 287.7 M1035.2 277.7 C1038.7 277.7 1052.2 278.0 1056.2 277.7 C1060.2 277.4 1058.7 276.7 1059.0 276.0 C1059.3 275.3 1058.3 274.0 1058.2 273.6 M1043.6 281.2 L1043.6 273.4" fill="none" stroke="#111" stroke-width="2.6" stroke-linecap="round" stroke-linejoin="round"/>
<path d="M1043.6 264.4 L1059.0 264.4 M1048.4 264.4 C1047.6 263.6 1044.1 261.3 1043.6 259.6 C1043.1 257.8 1044.4 254.9 1045.6 253.8 C1046.7 252.6 1048.4 252.7 1050.6 252.5 C1052.8 252.3 1057.6 252.5 1059.0 252.5 M1043.6 241.2 C1044.1 242.2 1044.8 245.8 1046.4 247.0 C1048.0 248.2 1051.3 249.0 1053.4 248.3 C1055.5 247.6 1058.4 244.8 1059.0 242.8 C1059.6 240.8 1058.2 237.8 1056.8 236.4 C1055.4 235.0 1052.6 234.4 1050.6 234.4 C1048.6 234.4 1046.2 235.2 1045.0 236.4 C1043.8 237.5 1043.8 240.4 1043.6 241.2 M1043.6 230.9 L1059.0 230.9 M1049.2 230.9 C1048.4 230.4 1045.4 229.0 1044.4 227.7 C1043.5 226.3 1043.5 224.1 1043.6 222.9 C1043.7 221.6 1044.8 220.7 1045.0 220.3 M1043.6 218.0 L1059.0 218.0 M1048.4 218.0 C1047.6 217.3 1043.9 215.2 1043.6 213.8 C1043.3 212.5 1043.8 210.7 1046.4 210.0 C1049.0 209.2 1056.9 209.4 1059.0 209.3 M1047.8 209.3 C1047.1 208.6 1043.8 206.5 1043.6 205.1 C1043.4 203.7 1043.8 201.8 1046.4 201.0 C1049.0 200.2 1056.9 200.4 1059.0 200.3 M1046.4 183.2 C1045.9 184.1 1043.6 186.2 1043.6 188.1 C1043.6 190.0 1044.8 193.1 1046.4 194.5 C1048.0 195.9 1051.3 196.7 1053.4 196.4 C1055.5 196.2 1058.4 194.6 1059.0 192.9 C1059.6 191.2 1058.4 188.1 1056.8 186.5 C1055.1 184.9 1050.5 183.8 1049.2 183.2 M1043.6 183.2 C1045.7 183.2 1053.6 183.6 1056.2 183.2 C1058.8 182.9 1058.5 181.4 1059.0 181.0 M1031.0 177.4 C1034.7 177.4 1048.7 177.5 1053.4 177.1 C1058.1 176.8 1058.1 175.9 1059.0 175.2 C1059.9 174.4 1059.0 173.0 1059.0 172.6 M1029.6 169.1 C1031.2 168.2 1035.9 164.7 1039.4 163.6 C1042.9 162.5 1046.9 161.7 1050.6 162.6 C1054.3 163.6 1059.9 168.0 1061.8 169.1" fill="none" stroke="#111" stroke-width="2.6" stroke-linecap="round" stroke-linejoin="round"/>
<path d="M1173.0 288.1 L1142.0 288.1 M1142.0 288.1 C1142.1 286.1 1141.6 279.2 1142.6 276.4 C1143.7 273.7 1146.0 271.6 1148.2 271.4 C1150.4 271.2 1154.1 272.5 1155.6 275.3 C1157.2 278.1 1157.2 285.9 1157.5 288.1 M1173.0 266.4 C1167.8 264.4 1142.0 258.6 1142.0 254.7 C1142.0 250.8 1167.8 245.0 1173.0 243.1 M1161.2 261.7 L1161.2 247.8 M1173.0 235.7 L1142.0 235.7 M1142.0 235.7 C1142.1 233.8 1141.6 226.9 1142.6 224.1 C1143.7 221.3 1146.0 219.3 1148.2 219.1 C1150.4 218.9 1154.1 220.2 1155.6 222.9 C1157.2 225.7 1157.2 233.6 1157.5 235.7 M1156.9 229.9 L1173.0 218.3 M1142.0 210.9 L1173.0 210.9 M1142.0 193.5 C1144.8 196.3 1153.9 210.1 1159.0 210.1 C1164.2 210.1 1170.7 196.3 1173.0 193.5 M1142.0 184.9 L1173.0 184.9 M1173.0 174.8 C1167.8 174.8 1142.0 177.8 1142.0 174.8 C1142.0 171.9 1173.0 160.3 1173.0 157.4 C1173.0 154.5 1147.2 157.4 1142.0 157.4 M1146.7 128.3 C1145.9 129.6 1142.2 133.1 1142.0 136.1 C1141.8 139.1 1143.1 143.8 1145.7 146.2 C1148.3 148.5 1153.6 150.0 1157.5 150.0 C1161.4 150.0 1166.7 148.3 1169.3 146.2 C1171.9 144.0 1173.0 140.0 1173.0 137.2 C1173.0 134.5 1171.5 131.0 1169.3 129.5 C1167.1 128.0 1161.5 127.0 1160.0 128.3 C1158.4 129.6 1160.0 135.8 1160.0 137.2" fill="none" stroke="#111" stroke-width="5.8" stroke-linecap="round" stroke-linejoin="round"/>
<path d="M813.6 567.0 C813.6 564.8 812.7 554.0 813.6 554.0 C814.4 554.0 817.7 567.0 818.5 567.0 C819.4 567.0 818.5 556.2 818.5 554.0 M822.9 554.0 C822.5 554.3 820.8 554.8 820.3 556.0 C819.7 557.1 819.5 559.5 819.6 561.1 C819.8 562.8 820.5 565.0 821.1 566.0 C821.7 566.9 822.5 567.2 823.3 567.0 C824.0 566.8 825.0 566.2 825.5 565.0 C826.0 563.9 826.3 561.5 826.3 559.9 C826.2 558.2 825.7 556.3 825.2 555.3 C824.6 554.3 823.3 554.2 822.9 554.0 M827.3 567.0 L827.3 554.0 M827.3 554.0 C827.8 554.0 829.8 553.8 830.6 554.3 C831.4 554.7 832.0 555.7 832.0 556.6 C832.1 557.5 831.7 559.1 830.9 559.7 C830.1 560.4 827.9 560.4 827.3 560.5 M828.9 560.2 L832.2 567.0 M832.8 554.0 L838.9 554.0 M835.9 554.0 L835.9 567.0 M839.5 554.0 L839.5 567.0 M844.5 554.0 L844.5 567.0 M839.5 560.5 L844.5 560.5 M852.0 556.0 C851.6 555.6 850.6 554.1 849.8 554.0 C849.0 553.9 847.7 554.2 847.0 555.3 C846.3 556.4 845.7 558.8 845.6 560.5 C845.5 562.2 846.1 564.4 846.7 565.4 C847.3 566.5 848.4 567.0 849.2 567.0 C850.1 567.0 851.5 565.9 852.0 565.7 M853.1 554.0 C853.1 555.5 852.8 560.9 853.1 563.1 C853.4 565.3 854.1 566.4 854.8 567.0 C855.4 567.6 856.4 567.6 857.0 567.0 C857.6 566.4 858.1 565.3 858.3 563.1 C858.5 560.9 858.3 555.5 858.3 554.0 M859.2 554.0 L865.3 554.0 M862.3 554.0 L862.3 567.0 M865.4 554.0 L871.5 554.0 M868.5 554.0 L868.5 567.0" fill="none" stroke="#111" stroke-width="2.2" stroke-linecap="round" stroke-linejoin="round"/>
<path d="M810.2 571.3 C809.8 571.1 808.6 570.0 807.7 570.0 C806.8 570.0 805.4 570.5 805.0 571.3 C804.5 572.1 804.5 573.7 805.0 574.5 C805.4 575.4 806.8 575.7 807.7 576.5 C808.6 577.3 809.9 578.2 810.2 579.1 C810.5 580.0 810.1 581.3 809.6 582.0 C809.0 582.6 808.0 583.0 807.1 583.0 C806.2 583.0 804.7 581.9 804.2 581.7 M812.6 572.0 C812.6 573.6 812.5 579.9 812.6 581.7 C812.8 583.5 813.2 582.8 813.5 583.0 C813.9 583.2 814.5 582.7 814.7 582.6 M810.8 575.9 L814.9 575.9 M815.9 579.8 C816.5 579.6 819.3 579.3 819.9 578.8 C820.6 578.4 820.2 577.4 819.9 576.9 C819.6 576.4 818.8 575.8 818.2 575.9 C817.6 575.9 816.7 576.4 816.2 577.1 C815.8 577.9 815.5 579.5 815.6 580.4 C815.8 581.3 816.4 582.3 817.1 582.7 C817.7 583.2 818.9 583.1 819.6 583.0 C820.2 582.9 820.6 582.1 820.8 582.0 M822.0 579.8 C822.7 579.6 825.4 579.3 826.1 578.8 C826.8 578.4 826.4 577.4 826.1 576.9 C825.8 576.4 825.0 575.8 824.4 575.9 C823.8 575.9 822.8 576.4 822.4 577.1 C822.0 577.9 821.6 579.5 821.8 580.4 C821.9 581.3 822.6 582.3 823.3 582.7 C823.9 583.2 825.1 583.1 825.7 583.0 C826.4 582.9 826.8 582.1 827.0 582.0 M828.2 570.0 C828.2 571.7 828.2 578.2 828.3 580.4 C828.5 582.6 828.8 582.6 829.1 583.0 C829.4 583.4 829.9 583.0 830.1 583.0 M831.4 579.8 C832.1 579.6 834.8 579.3 835.5 578.8 C836.2 578.4 835.8 577.4 835.5 576.9 C835.2 576.4 834.4 575.8 833.8 575.9 C833.1 575.9 832.2 576.4 831.8 577.1 C831.4 577.9 831.0 579.5 831.2 580.4 C831.3 581.3 832.0 582.3 832.7 582.7 C833.3 583.2 834.5 583.1 835.1 583.0 C835.7 582.9 836.2 582.1 836.4 582.0" fill="none" stroke="#111" stroke-width="2.2" stroke-linecap="round" stroke-linejoin="round"/>
<path d="M820.8 584.2 C820.4 583.9 819.2 582.1 818.1 582.0 C817.1 581.9 815.4 582.5 814.6 583.8 C813.8 585.0 813.3 587.6 813.3 589.5 C813.3 591.4 813.9 594.0 814.6 595.2 C815.4 596.5 816.8 597.0 817.7 597.0 C818.7 597.0 819.9 596.2 820.4 595.2 C820.9 594.2 821.3 591.5 820.8 590.7 C820.4 590.0 818.2 590.7 817.7 590.7 M821.8 597.0 C822.5 594.5 824.5 582.0 825.8 582.0 C827.2 582.0 829.2 594.5 829.9 597.0 M823.4 591.3 L828.3 591.3 M831.2 582.0 C831.2 584.5 830.3 594.5 831.2 597.0 C832.1 599.5 835.7 597.0 836.6 597.0 M838.0 582.0 C838.0 584.5 837.1 594.5 838.0 597.0 C838.9 599.5 842.5 597.0 843.4 597.0 M850.1 582.0 C849.2 582.0 845.6 579.5 844.7 582.0 C843.8 584.5 843.8 594.5 844.7 597.0 C845.6 599.5 849.2 597.0 850.1 597.0 M844.7 589.2 L849.2 589.2 M851.5 597.0 L851.5 582.0 M851.5 582.0 C852.1 582.0 854.6 581.8 855.5 582.3 C856.5 582.8 857.2 584.0 857.3 585.0 C857.3 586.0 856.9 587.9 855.9 588.6 C855.0 589.4 852.2 589.4 851.5 589.5 M853.5 589.2 L857.5 597.0 M858.2 582.0 C858.8 583.2 860.6 589.5 861.9 589.5 C863.1 589.5 865.0 583.2 865.6 582.0 M861.9 589.5 L861.9 597.0" fill="none" stroke="#111" stroke-width="2.2" stroke-linecap="round" stroke-linejoin="round"/>
<path d="M1072.0 658.7 L1072.0 644.9 M1072.0 651.7 L1094.0 655.0 M1081.9 644.9 C1083.4 645.1 1088.7 646.3 1090.7 646.2 C1092.7 646.1 1093.6 645.3 1094.0 644.2 C1094.4 643.1 1093.8 641.0 1092.9 639.8 C1092.0 638.5 1089.2 637.1 1088.5 636.6 M1081.9 635.6 L1094.0 637.4 M1081.9 631.8 L1094.0 633.7 M1086.3 632.5 C1085.7 632.0 1083.3 630.6 1082.6 629.4 C1081.8 628.3 1081.8 626.5 1081.9 625.6 C1082.0 624.6 1082.8 624.0 1083.0 623.7 M1081.9 621.8 L1094.0 623.6 M1085.6 622.4 C1085.0 621.7 1082.3 619.5 1081.9 618.1 C1081.5 616.6 1082.5 614.5 1083.4 613.8 C1084.4 613.0 1085.6 613.3 1087.4 613.4 C1089.2 613.5 1092.9 614.2 1094.0 614.3 M1072.0 599.8 L1094.0 603.1 M1072.0 588.5 L1094.0 591.8 M1083.0 601.4 L1083.0 590.1 M1088.5 587.7 C1088.2 586.3 1087.8 580.7 1087.0 579.2 C1086.2 577.7 1084.5 578.2 1083.7 578.7 C1082.8 579.1 1081.8 580.7 1081.9 581.9 C1082.0 583.2 1082.8 585.2 1084.1 586.3 C1085.4 587.3 1088.0 588.4 1089.6 588.4 C1091.2 588.3 1092.8 587.2 1093.6 585.9 C1094.3 584.7 1094.2 582.3 1094.0 581.0 C1093.8 579.7 1092.5 578.7 1092.2 578.2 M1081.9 574.2 L1094.0 576.0 M1086.3 574.8 C1085.7 574.3 1083.3 572.9 1082.6 571.8 C1081.8 570.6 1081.8 568.8 1081.9 567.9 C1082.0 566.9 1082.8 566.4 1083.0 566.0 M1088.5 565.1 C1088.2 563.7 1087.8 558.1 1087.0 556.6 C1086.2 555.1 1084.5 555.7 1083.7 556.1 C1082.8 556.6 1081.8 558.1 1081.9 559.4 C1082.0 560.6 1082.8 562.6 1084.1 563.7 C1085.4 564.8 1088.0 565.8 1089.6 565.8 C1091.2 565.7 1092.8 564.6 1093.6 563.4 C1094.3 562.1 1094.2 559.7 1094.0 558.4 C1093.8 557.1 1092.5 556.1 1092.2 555.6" fill="none" stroke="#d42a1c" stroke-width="3.2" stroke-linecap="round" stroke-linejoin="round"/>
<path d="M1124.0 417.2 L1108.0 417.2 M1108.0 417.2 C1108.1 416.4 1107.8 413.5 1108.3 412.4 C1108.9 411.3 1110.1 410.4 1111.2 410.3 C1112.3 410.2 1114.2 410.8 1115.0 411.9 C1115.8 413.1 1115.8 416.3 1116.0 417.2 M1116.8 402.5 C1116.5 402.9 1115.2 403.9 1115.2 404.9 C1115.2 405.8 1115.9 407.4 1116.8 408.1 C1117.7 408.8 1119.6 409.2 1120.8 409.0 C1122.0 408.9 1123.7 408.1 1124.0 407.3 C1124.3 406.5 1123.7 404.9 1122.7 404.1 C1121.8 403.3 1119.1 402.7 1118.4 402.5 M1115.2 402.5 C1116.4 402.5 1120.9 402.7 1122.4 402.5 C1123.9 402.3 1123.7 401.5 1124.0 401.4 M1115.2 399.6 L1124.0 399.6 M1118.4 399.6 C1117.9 399.3 1116.2 398.7 1115.7 398.0 C1115.1 397.3 1115.1 396.2 1115.2 395.6 C1115.3 395.0 1115.9 394.5 1116.0 394.3 M1108.0 393.2 L1124.0 393.2 M1115.2 387.6 C1115.9 388.5 1118.1 392.8 1119.5 392.7 C1121.0 392.7 1123.3 388.2 1124.0 387.3 M1115.2 385.0 L1124.0 385.0 M1111.5 385.0 L1112.0 384.9 M1115.2 382.0 L1124.0 382.0 M1117.9 382.0 C1117.5 381.6 1115.5 380.5 1115.2 379.6 C1114.9 378.7 1115.7 377.3 1116.3 376.7 C1117.0 376.1 1117.9 376.2 1119.2 376.1 C1120.5 376.0 1123.2 376.1 1124.0 376.1 M1116.8 367.3 C1116.5 367.7 1115.2 368.7 1115.2 369.7 C1115.2 370.6 1115.9 372.2 1116.8 372.9 C1117.7 373.6 1119.6 374.0 1120.8 373.8 C1122.0 373.7 1123.7 372.9 1124.0 372.1 C1124.3 371.3 1123.7 369.7 1122.7 368.9 C1121.8 368.1 1119.1 367.5 1118.4 367.3 M1115.2 367.3 C1117.2 367.3 1124.7 367.0 1127.2 367.3 C1129.7 367.5 1129.5 368.1 1130.1 368.9 C1130.6 369.7 1130.6 371.2 1130.4 372.1 C1130.2 372.9 1129.1 373.7 1128.8 374.0" fill="none" stroke="#111" stroke-width="1.5" stroke-linecap="round" stroke-linejoin="round"/>
<path d="M1148.0 533.3 C1145.5 533.3 1133.0 534.4 1133.0 533.3 C1133.0 532.2 1148.0 527.9 1148.0 526.9 C1148.0 525.8 1135.5 526.9 1133.0 526.9 M1141.2 519.3 C1141.0 519.7 1139.8 520.6 1139.8 521.5 C1139.8 522.3 1140.4 523.7 1141.2 524.3 C1142.1 524.9 1143.9 525.3 1145.0 525.2 C1146.1 525.0 1147.7 524.3 1148.0 523.6 C1148.3 522.9 1147.7 521.5 1146.8 520.7 C1145.9 520.0 1143.4 519.6 1142.8 519.3 M1139.8 519.3 C1140.9 519.3 1145.1 519.5 1146.5 519.3 C1147.9 519.2 1147.8 518.5 1148.0 518.3 M1135.2 515.3 C1137.1 515.3 1144.4 515.5 1146.5 515.3 C1148.6 515.2 1147.8 514.7 1148.0 514.3 C1148.2 513.9 1147.6 513.1 1147.5 512.9 M1139.8 517.5 L1139.8 512.8 M1139.8 511.2 L1148.0 511.2 M1136.3 511.2 L1136.8 511.1 M1139.8 509.2 C1141.1 508.7 1148.0 507.1 1148.0 506.1 C1148.0 505.0 1141.1 503.5 1139.8 502.9 M1144.2 501.7 C1144.1 500.9 1143.8 497.7 1143.2 496.9 C1142.7 496.2 1141.5 496.6 1141.0 496.9 C1140.4 497.3 1139.7 498.2 1139.8 498.9 C1139.8 499.7 1140.4 500.7 1141.2 501.2 C1142.1 501.7 1143.9 502.1 1145.0 501.9 C1146.1 501.8 1147.2 501.0 1147.7 500.2 C1148.2 499.5 1148.2 498.1 1148.0 497.4 C1147.8 496.7 1147.0 496.2 1146.8 496.0 M1148.0 491.0 C1145.5 490.3 1133.0 488.1 1133.0 486.7 C1133.0 485.3 1145.5 483.1 1148.0 482.4 M1142.3 489.3 L1142.3 484.1 M1139.8 481.0 L1148.0 481.0 M1142.3 481.0 C1141.9 480.7 1139.9 479.7 1139.8 479.1 C1139.6 478.5 1139.9 477.8 1141.2 477.4 C1142.6 477.1 1146.9 477.2 1148.0 477.1 M1142.0 477.1 C1141.6 476.8 1139.9 475.9 1139.8 475.3 C1139.6 474.7 1139.9 473.8 1141.2 473.4 C1142.6 473.1 1146.9 473.2 1148.0 473.2 M1144.2 471.3 C1144.1 470.5 1143.8 467.4 1143.2 466.6 C1142.7 465.8 1141.5 466.3 1141.0 466.6 C1140.4 466.9 1139.7 467.9 1139.8 468.6 C1139.8 469.3 1140.4 470.4 1141.2 470.9 C1142.1 471.4 1143.9 471.8 1145.0 471.6 C1146.1 471.4 1147.2 470.6 1147.7 469.9 C1148.2 469.1 1148.2 467.7 1148.0 467.0 C1147.8 466.3 1147.0 465.8 1146.8 465.6 M1139.8 464.2 L1148.0 464.2 M1142.8 464.2 C1142.3 463.9 1140.7 463.3 1140.2 462.8 C1139.7 462.2 1139.7 461.2 1139.8 460.6 C1139.8 460.1 1140.4 459.7 1140.5 459.5 M1139.8 458.0 L1148.0 458.0 M1136.3 458.0 L1136.8 457.9 M1140.8 449.6 C1140.6 450.0 1139.7 450.9 1139.8 451.8 C1139.8 452.6 1140.5 454.0 1141.2 454.6 C1142.0 455.3 1143.2 455.7 1144.2 455.6 C1145.3 455.6 1146.9 455.0 1147.5 454.3 C1148.2 453.7 1148.1 452.6 1148.0 451.8 C1147.9 451.0 1147.0 450.0 1146.8 449.6 M1141.2 442.5 C1141.0 442.9 1139.8 443.8 1139.8 444.7 C1139.8 445.5 1140.4 446.9 1141.2 447.5 C1142.1 448.1 1143.9 448.5 1145.0 448.4 C1146.1 448.2 1147.7 447.5 1148.0 446.8 C1148.3 446.1 1147.7 444.7 1146.8 443.9 C1145.9 443.2 1143.4 442.8 1142.8 442.5 M1139.8 442.5 C1140.9 442.5 1145.1 442.7 1146.5 442.5 C1147.9 442.3 1147.8 441.7 1148.0 441.5 M1139.8 439.9 L1148.0 439.9 M1142.3 439.9 C1141.9 439.6 1140.0 438.6 1139.8 437.8 C1139.5 437.0 1140.2 435.8 1140.8 435.2 C1141.4 434.7 1142.3 434.8 1143.5 434.7 C1144.7 434.6 1147.2 434.7 1148.0 434.7" fill="none" stroke="#111" stroke-width="1.5" stroke-linecap="round" stroke-linejoin="round"/>
<path d="M1155.4 521.4 C1155.0 521.9 1153.1 523.4 1153.0 524.6 C1152.9 525.8 1153.3 527.6 1154.6 528.6 C1155.9 529.6 1158.9 530.6 1161.0 530.7 C1163.1 530.8 1165.7 530.0 1167.1 529.1 C1168.4 528.2 1168.9 526.7 1169.0 525.4 C1169.1 524.1 1167.7 522.1 1167.4 521.4 M1165.0 519.8 C1164.8 518.9 1164.5 515.4 1163.9 514.5 C1163.3 513.6 1162.1 514.1 1161.5 514.5 C1160.9 514.9 1160.1 516.0 1160.2 516.8 C1160.3 517.6 1160.9 518.8 1161.8 519.3 C1162.7 519.9 1164.7 520.3 1165.8 520.1 C1166.9 519.9 1168.1 519.1 1168.7 518.2 C1169.2 517.3 1169.2 515.8 1169.0 515.0 C1168.8 514.2 1167.9 513.7 1167.7 513.4 M1160.2 511.8 L1169.0 511.8 M1162.9 511.8 C1162.5 511.4 1160.5 510.3 1160.2 509.4 C1159.9 508.5 1160.7 507.1 1161.3 506.5 C1162.0 505.9 1162.9 506.0 1164.2 505.9 C1165.5 505.8 1168.2 505.9 1169.0 505.9 M1155.4 501.9 C1157.4 501.9 1165.1 502.1 1167.4 501.9 C1169.7 501.7 1168.8 501.2 1169.0 500.8 C1169.2 500.3 1168.6 499.4 1168.5 499.2 M1160.2 504.3 L1160.2 499.0 M1165.0 497.7 C1164.8 496.8 1164.5 493.3 1163.9 492.4 C1163.3 491.6 1162.1 492.1 1161.5 492.4 C1160.9 492.8 1160.1 493.9 1160.2 494.7 C1160.3 495.5 1160.9 496.7 1161.8 497.2 C1162.7 497.8 1164.7 498.2 1165.8 498.0 C1166.9 497.9 1168.1 497.0 1168.7 496.1 C1169.2 495.3 1169.2 493.7 1169.0 492.9 C1168.8 492.1 1167.9 491.6 1167.7 491.3 M1160.2 489.7 L1169.0 489.7 M1163.4 489.7 C1162.9 489.5 1161.2 488.8 1160.7 488.1 C1160.1 487.5 1160.1 486.3 1160.2 485.7 C1160.3 485.1 1160.9 484.7 1161.0 484.4" fill="none" stroke="#111" stroke-width="1.5" stroke-linecap="round" stroke-linejoin="round"/>
<path d="M13.6 592.4 C12.8 591.4 9.2 588.3 9.0 586.2 C8.8 584.2 10.7 580.8 12.4 580.0 C14.2 579.3 16.1 579.4 19.4 581.6 C22.6 583.8 29.9 593.9 32.0 593.4 C34.1 592.9 32.0 581.0 32.0 578.5 M9.0 569.3 C9.0 566.8 5.2 555.1 9.0 554.4 C12.8 553.7 28.2 563.5 32.0 565.3 M12.4 542.1 C15.3 542.1 26.4 542.5 29.7 542.1 C33.0 541.8 31.7 540.8 32.0 539.9 C32.3 539.1 31.4 537.4 31.3 536.8 M19.4 546.8 L19.4 536.5 M9.0 527.0 L32.0 527.0 M24.0 527.0 C23.2 526.3 19.9 524.1 19.4 522.4 C18.8 520.7 19.5 517.9 20.5 516.8 C21.5 515.7 23.2 515.8 25.1 515.6 C27.0 515.4 30.9 515.6 32.0 515.6" fill="none" stroke="#111" stroke-width="1.6" stroke-linecap="round" stroke-linejoin="round"/>
<path d="M8.6 458.8 C8.2 460.0 6.0 463.5 6.0 466.1 C6.0 468.6 7.1 472.8 8.6 474.1 C10.1 475.4 13.4 475.4 15.1 474.1 C16.8 472.8 17.5 468.6 19.0 466.1 C20.5 463.5 22.4 459.7 24.2 458.8 C26.0 457.9 28.6 459.1 29.9 460.6 C31.2 462.1 32.1 465.3 32.0 467.9 C31.9 470.5 29.8 474.9 29.4 476.3 M9.9 442.5 C13.2 442.5 25.7 442.9 29.4 442.5 C33.1 442.1 31.7 441.0 32.0 440.0 C32.3 438.9 31.3 436.9 31.2 436.3 M17.7 448.0 L17.7 436.0 M17.7 424.1 L32.0 424.1 M22.9 424.1 C22.2 423.4 19.3 421.9 18.5 420.4 C17.6 418.9 17.6 416.4 17.7 415.0 C17.8 413.6 18.8 412.5 19.0 412.0 M25.5 400.5 C25.2 398.5 24.6 390.5 23.7 388.5 C22.7 386.5 20.8 387.6 19.8 388.5 C18.8 389.3 17.6 391.8 17.7 393.6 C17.8 395.4 18.8 398.1 20.3 399.4 C21.8 400.7 24.9 401.6 26.8 401.2 C28.7 400.8 30.6 398.8 31.5 396.9 C32.3 394.9 32.3 391.4 32.0 389.6 C31.7 387.8 30.3 386.5 29.9 385.9 M25.5 373.3 C25.2 371.3 24.6 363.3 23.7 361.3 C22.7 359.3 20.8 360.4 19.8 361.3 C18.8 362.1 17.6 364.6 17.7 366.4 C17.8 368.2 18.8 370.9 20.3 372.2 C21.8 373.5 24.9 374.4 26.8 374.0 C28.7 373.6 30.6 371.6 31.5 369.7 C32.3 367.7 32.3 364.2 32.0 362.4 C31.7 360.6 30.3 359.3 29.9 358.7 M9.9 342.5 C13.2 342.5 25.7 342.9 29.4 342.5 C33.1 342.0 31.7 340.9 32.0 339.9 C32.3 338.9 31.4 336.9 31.2 336.3 M17.7 347.9 L17.7 335.9" fill="none" stroke="#111" stroke-width="1.6" stroke-linecap="round" stroke-linejoin="round"/>
</svg>
</body></html>
